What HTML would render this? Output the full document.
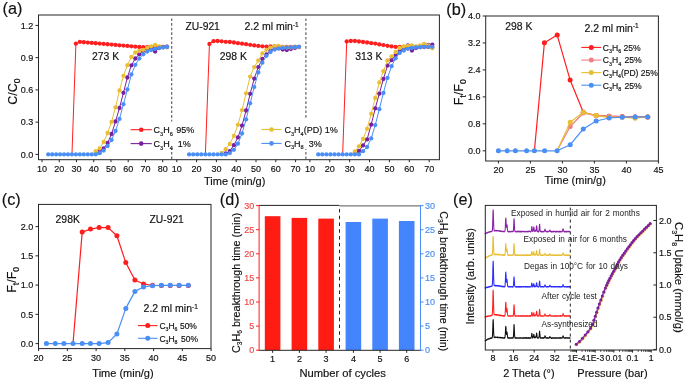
<!DOCTYPE html>
<html><head><meta charset="utf-8"><style>
html,body{margin:0;padding:0;background:#fff;}
svg{display:block;font-family:"Liberation Sans", sans-serif;will-change:transform;}
</style></head><body>
<svg width="685" height="383" viewBox="0 0 685 383">
<rect width="685" height="383" fill="#fff"/>
<line x1="171.7" y1="18.5" x2="171.7" y2="159.7" stroke="#555" stroke-width="1.1" stroke-dasharray="2.6,2" />
<line x1="305.9" y1="18.5" x2="305.9" y2="159.7" stroke="#555" stroke-width="1.1" stroke-dasharray="2.6,2" />
<polyline points="71.96,154.4 75.92,43.7 79.88,41.9 83.84,42.24 87.8,42.58 91.76,42.91 95.72,43.25 99.68,43.59 103.64,43.93 107.6,44.27 111.56,44.61 115.52,44.95 119.48,45.28 123.44,45.62 127.4,45.96 131.36,46.3 135.32,46.64 139.28,46.98 143.24,47.2 147.2,47.2 151.16,47.2 155.12,47.2 159.08,47.2 163.04,47 167,47" fill="none" stroke="#ff1e1e" stroke-width="1.0" stroke-linejoin="round" />
<circle cx="75.92" cy="43.7" r="2.15" fill="#ff1e1e"/>
<circle cx="79.88" cy="41.9" r="2.15" fill="#ff1e1e"/>
<circle cx="83.84" cy="42.24" r="2.15" fill="#ff1e1e"/>
<circle cx="87.8" cy="42.58" r="2.15" fill="#ff1e1e"/>
<circle cx="91.76" cy="42.91" r="2.15" fill="#ff1e1e"/>
<circle cx="95.72" cy="43.25" r="2.15" fill="#ff1e1e"/>
<circle cx="99.68" cy="43.59" r="2.15" fill="#ff1e1e"/>
<circle cx="103.64" cy="43.93" r="2.15" fill="#ff1e1e"/>
<circle cx="107.6" cy="44.27" r="2.15" fill="#ff1e1e"/>
<circle cx="111.56" cy="44.61" r="2.15" fill="#ff1e1e"/>
<circle cx="115.52" cy="44.95" r="2.15" fill="#ff1e1e"/>
<circle cx="119.48" cy="45.28" r="2.15" fill="#ff1e1e"/>
<circle cx="123.44" cy="45.62" r="2.15" fill="#ff1e1e"/>
<circle cx="127.4" cy="45.96" r="2.15" fill="#ff1e1e"/>
<circle cx="131.36" cy="46.3" r="2.15" fill="#ff1e1e"/>
<circle cx="135.32" cy="46.64" r="2.15" fill="#ff1e1e"/>
<circle cx="139.28" cy="46.98" r="2.15" fill="#ff1e1e"/>
<circle cx="143.24" cy="47.2" r="2.15" fill="#ff1e1e"/>
<circle cx="147.2" cy="47.2" r="2.15" fill="#ff1e1e"/>
<circle cx="151.16" cy="47.2" r="2.15" fill="#ff1e1e"/>
<circle cx="155.12" cy="47.2" r="2.15" fill="#ff1e1e"/>
<circle cx="159.08" cy="47.2" r="2.15" fill="#ff1e1e"/>
<circle cx="163.04" cy="47" r="2.15" fill="#ff1e1e"/>
<circle cx="167" cy="47" r="2.15" fill="#ff1e1e"/>
<polyline points="95.72,154.4 99.68,150.6 103.64,148.5 107.6,143 111.56,134 115.52,121.5 119.48,108 123.44,92.8 127.4,77.5 131.36,65.3 135.32,58.5 139.28,54.3 143.24,50.8 147.2,48.6 151.16,47.6 155.12,51.5 159.08,48 163.04,46.8 167,46.6" fill="none" stroke="#7a1fa0" stroke-width="1.0" stroke-linejoin="round" />
<circle cx="99.68" cy="150.6" r="2.15" fill="#7a1fa0"/>
<circle cx="103.64" cy="148.5" r="2.15" fill="#7a1fa0"/>
<circle cx="107.6" cy="143" r="2.15" fill="#7a1fa0"/>
<circle cx="111.56" cy="134" r="2.15" fill="#7a1fa0"/>
<circle cx="115.52" cy="121.5" r="2.15" fill="#7a1fa0"/>
<circle cx="119.48" cy="108" r="2.15" fill="#7a1fa0"/>
<circle cx="123.44" cy="92.8" r="2.15" fill="#7a1fa0"/>
<circle cx="127.4" cy="77.5" r="2.15" fill="#7a1fa0"/>
<circle cx="131.36" cy="65.3" r="2.15" fill="#7a1fa0"/>
<circle cx="135.32" cy="58.5" r="2.15" fill="#7a1fa0"/>
<circle cx="139.28" cy="54.3" r="2.15" fill="#7a1fa0"/>
<circle cx="143.24" cy="50.8" r="2.15" fill="#7a1fa0"/>
<circle cx="147.2" cy="48.6" r="2.15" fill="#7a1fa0"/>
<circle cx="151.16" cy="47.6" r="2.15" fill="#7a1fa0"/>
<circle cx="155.12" cy="51.5" r="2.15" fill="#7a1fa0"/>
<circle cx="159.08" cy="48" r="2.15" fill="#7a1fa0"/>
<circle cx="163.04" cy="46.8" r="2.15" fill="#7a1fa0"/>
<circle cx="167" cy="46.6" r="2.15" fill="#7a1fa0"/>
<polyline points="91.76,154.4 95.72,151.2 99.68,148.4 103.64,142 107.6,133 111.56,122 115.52,107.3 119.48,90.5 123.44,75.8 127.4,65.2 131.36,57 135.32,52.5 139.28,50.8 143.24,49.8 147.2,47.8 151.16,46.3 155.12,45 159.08,46.5 163.04,47.5 167,47.2" fill="none" stroke="#e8be35" stroke-width="1.0" stroke-linejoin="round" />
<circle cx="95.72" cy="151.2" r="2.15" fill="#e8be35"/>
<circle cx="99.68" cy="148.4" r="2.15" fill="#e8be35"/>
<circle cx="103.64" cy="142" r="2.15" fill="#e8be35"/>
<circle cx="107.6" cy="133" r="2.15" fill="#e8be35"/>
<circle cx="111.56" cy="122" r="2.15" fill="#e8be35"/>
<circle cx="115.52" cy="107.3" r="2.15" fill="#e8be35"/>
<circle cx="119.48" cy="90.5" r="2.15" fill="#e8be35"/>
<circle cx="123.44" cy="75.8" r="2.15" fill="#e8be35"/>
<circle cx="127.4" cy="65.2" r="2.15" fill="#e8be35"/>
<circle cx="131.36" cy="57" r="2.15" fill="#e8be35"/>
<circle cx="135.32" cy="52.5" r="2.15" fill="#e8be35"/>
<circle cx="139.28" cy="50.8" r="2.15" fill="#e8be35"/>
<circle cx="143.24" cy="49.8" r="2.15" fill="#e8be35"/>
<circle cx="147.2" cy="47.8" r="2.15" fill="#e8be35"/>
<circle cx="151.16" cy="46.3" r="2.15" fill="#e8be35"/>
<circle cx="155.12" cy="45" r="2.15" fill="#e8be35"/>
<circle cx="159.08" cy="46.5" r="2.15" fill="#e8be35"/>
<circle cx="163.04" cy="47.5" r="2.15" fill="#e8be35"/>
<circle cx="167" cy="47.2" r="2.15" fill="#e8be35"/>
<polyline points="48.2,154.4 52.16,154.4 56.12,154.4 60.08,154.4 64.04,154.4 68,154.4 71.96,154.4 75.92,154.4 79.88,154.4 83.84,154.4 87.8,154.4 91.76,154.4 95.72,154.4 99.68,153.2 103.64,150.6 107.6,146 111.56,140 115.52,131 119.48,118.9 123.44,104.2 127.4,89.5 131.36,74.5 135.32,64.8 139.28,58.6 143.24,54.3 147.2,51.6 151.16,50.1 155.12,48.8 159.08,48 163.04,47.4 167,47" fill="none" stroke="#4a8ff5" stroke-width="1.0" stroke-linejoin="round" />
<circle cx="48.2" cy="154.4" r="2.15" fill="#4a8ff5"/>
<circle cx="52.16" cy="154.4" r="2.15" fill="#4a8ff5"/>
<circle cx="56.12" cy="154.4" r="2.15" fill="#4a8ff5"/>
<circle cx="60.08" cy="154.4" r="2.15" fill="#4a8ff5"/>
<circle cx="64.04" cy="154.4" r="2.15" fill="#4a8ff5"/>
<circle cx="68" cy="154.4" r="2.15" fill="#4a8ff5"/>
<circle cx="71.96" cy="154.4" r="2.15" fill="#4a8ff5"/>
<circle cx="75.92" cy="154.4" r="2.15" fill="#4a8ff5"/>
<circle cx="79.88" cy="154.4" r="2.15" fill="#4a8ff5"/>
<circle cx="83.84" cy="154.4" r="2.15" fill="#4a8ff5"/>
<circle cx="87.8" cy="154.4" r="2.15" fill="#4a8ff5"/>
<circle cx="91.76" cy="154.4" r="2.15" fill="#4a8ff5"/>
<circle cx="95.72" cy="154.4" r="2.15" fill="#4a8ff5"/>
<circle cx="99.68" cy="153.2" r="2.15" fill="#4a8ff5"/>
<circle cx="103.64" cy="150.6" r="2.15" fill="#4a8ff5"/>
<circle cx="107.6" cy="146" r="2.15" fill="#4a8ff5"/>
<circle cx="111.56" cy="140" r="2.15" fill="#4a8ff5"/>
<circle cx="115.52" cy="131" r="2.15" fill="#4a8ff5"/>
<circle cx="119.48" cy="118.9" r="2.15" fill="#4a8ff5"/>
<circle cx="123.44" cy="104.2" r="2.15" fill="#4a8ff5"/>
<circle cx="127.4" cy="89.5" r="2.15" fill="#4a8ff5"/>
<circle cx="131.36" cy="74.5" r="2.15" fill="#4a8ff5"/>
<circle cx="135.32" cy="64.8" r="2.15" fill="#4a8ff5"/>
<circle cx="139.28" cy="58.6" r="2.15" fill="#4a8ff5"/>
<circle cx="143.24" cy="54.3" r="2.15" fill="#4a8ff5"/>
<circle cx="147.2" cy="51.6" r="2.15" fill="#4a8ff5"/>
<circle cx="151.16" cy="50.1" r="2.15" fill="#4a8ff5"/>
<circle cx="155.12" cy="48.8" r="2.15" fill="#4a8ff5"/>
<circle cx="159.08" cy="48" r="2.15" fill="#4a8ff5"/>
<circle cx="163.04" cy="47.4" r="2.15" fill="#4a8ff5"/>
<circle cx="167" cy="47" r="2.15" fill="#4a8ff5"/>
<polyline points="205.38,154.4 209.45,44 213.52,41.2 217.59,41 221.66,41.3 225.73,41.8 229.8,42 233.87,42.5 237.94,43.2 242.01,43.7 246.08,44.2 250.15,44.8 254.22,45.4 258.29,45.9 262.36,46.3 266.43,46.6 270.5,46.5 274.57,46.4 278.64,46.6 282.71,46.8 286.78,47 290.85,47 294.92,47 298.99,47" fill="none" stroke="#ff1e1e" stroke-width="1.0" stroke-linejoin="round" />
<circle cx="209.45" cy="44" r="2.15" fill="#ff1e1e"/>
<circle cx="213.52" cy="41.2" r="2.15" fill="#ff1e1e"/>
<circle cx="217.59" cy="41" r="2.15" fill="#ff1e1e"/>
<circle cx="221.66" cy="41.3" r="2.15" fill="#ff1e1e"/>
<circle cx="225.73" cy="41.8" r="2.15" fill="#ff1e1e"/>
<circle cx="229.8" cy="42" r="2.15" fill="#ff1e1e"/>
<circle cx="233.87" cy="42.5" r="2.15" fill="#ff1e1e"/>
<circle cx="237.94" cy="43.2" r="2.15" fill="#ff1e1e"/>
<circle cx="242.01" cy="43.7" r="2.15" fill="#ff1e1e"/>
<circle cx="246.08" cy="44.2" r="2.15" fill="#ff1e1e"/>
<circle cx="250.15" cy="44.8" r="2.15" fill="#ff1e1e"/>
<circle cx="254.22" cy="45.4" r="2.15" fill="#ff1e1e"/>
<circle cx="258.29" cy="45.9" r="2.15" fill="#ff1e1e"/>
<circle cx="262.36" cy="46.3" r="2.15" fill="#ff1e1e"/>
<circle cx="266.43" cy="46.6" r="2.15" fill="#ff1e1e"/>
<circle cx="270.5" cy="46.5" r="2.15" fill="#ff1e1e"/>
<circle cx="274.57" cy="46.4" r="2.15" fill="#ff1e1e"/>
<circle cx="278.64" cy="46.6" r="2.15" fill="#ff1e1e"/>
<circle cx="282.71" cy="46.8" r="2.15" fill="#ff1e1e"/>
<circle cx="286.78" cy="47" r="2.15" fill="#ff1e1e"/>
<circle cx="290.85" cy="47" r="2.15" fill="#ff1e1e"/>
<circle cx="294.92" cy="47" r="2.15" fill="#ff1e1e"/>
<circle cx="298.99" cy="47" r="2.15" fill="#ff1e1e"/>
<polyline points="221.66,154.4 225.73,153.5 229.8,151.1 233.87,145.2 237.94,137.4 242.01,125.6 246.08,110.5 250.15,93.8 254.22,78.6 258.29,67.1 262.36,58.8 266.43,54.4 270.5,50.6 274.57,49 278.64,48.4 282.71,49.5 286.78,50.1 290.85,49 294.92,47.9 298.99,46.8" fill="none" stroke="#7a1fa0" stroke-width="1.0" stroke-linejoin="round" />
<circle cx="225.73" cy="153.5" r="2.15" fill="#7a1fa0"/>
<circle cx="229.8" cy="151.1" r="2.15" fill="#7a1fa0"/>
<circle cx="233.87" cy="145.2" r="2.15" fill="#7a1fa0"/>
<circle cx="237.94" cy="137.4" r="2.15" fill="#7a1fa0"/>
<circle cx="242.01" cy="125.6" r="2.15" fill="#7a1fa0"/>
<circle cx="246.08" cy="110.5" r="2.15" fill="#7a1fa0"/>
<circle cx="250.15" cy="93.8" r="2.15" fill="#7a1fa0"/>
<circle cx="254.22" cy="78.6" r="2.15" fill="#7a1fa0"/>
<circle cx="258.29" cy="67.1" r="2.15" fill="#7a1fa0"/>
<circle cx="262.36" cy="58.8" r="2.15" fill="#7a1fa0"/>
<circle cx="266.43" cy="54.4" r="2.15" fill="#7a1fa0"/>
<circle cx="270.5" cy="50.6" r="2.15" fill="#7a1fa0"/>
<circle cx="274.57" cy="49" r="2.15" fill="#7a1fa0"/>
<circle cx="278.64" cy="48.4" r="2.15" fill="#7a1fa0"/>
<circle cx="282.71" cy="49.5" r="2.15" fill="#7a1fa0"/>
<circle cx="286.78" cy="50.1" r="2.15" fill="#7a1fa0"/>
<circle cx="290.85" cy="49" r="2.15" fill="#7a1fa0"/>
<circle cx="294.92" cy="47.9" r="2.15" fill="#7a1fa0"/>
<circle cx="298.99" cy="46.8" r="2.15" fill="#7a1fa0"/>
<polyline points="217.59,154.4 221.66,153 225.73,149.2 229.8,143.9 233.87,135.8 237.94,124.8 242.01,110.2 246.08,93.3 250.15,76.6 254.22,67.1 258.29,60.5 262.36,53.4 266.43,49.8 270.5,47.6 274.57,46.2 278.64,45.9 282.71,46.8 286.78,47.5 290.85,47.5 294.92,47 298.99,47" fill="none" stroke="#e8be35" stroke-width="1.0" stroke-linejoin="round" />
<circle cx="221.66" cy="153" r="2.15" fill="#e8be35"/>
<circle cx="225.73" cy="149.2" r="2.15" fill="#e8be35"/>
<circle cx="229.8" cy="143.9" r="2.15" fill="#e8be35"/>
<circle cx="233.87" cy="135.8" r="2.15" fill="#e8be35"/>
<circle cx="237.94" cy="124.8" r="2.15" fill="#e8be35"/>
<circle cx="242.01" cy="110.2" r="2.15" fill="#e8be35"/>
<circle cx="246.08" cy="93.3" r="2.15" fill="#e8be35"/>
<circle cx="250.15" cy="76.6" r="2.15" fill="#e8be35"/>
<circle cx="254.22" cy="67.1" r="2.15" fill="#e8be35"/>
<circle cx="258.29" cy="60.5" r="2.15" fill="#e8be35"/>
<circle cx="262.36" cy="53.4" r="2.15" fill="#e8be35"/>
<circle cx="266.43" cy="49.8" r="2.15" fill="#e8be35"/>
<circle cx="270.5" cy="47.6" r="2.15" fill="#e8be35"/>
<circle cx="274.57" cy="46.2" r="2.15" fill="#e8be35"/>
<circle cx="278.64" cy="45.9" r="2.15" fill="#e8be35"/>
<circle cx="282.71" cy="46.8" r="2.15" fill="#e8be35"/>
<circle cx="286.78" cy="47.5" r="2.15" fill="#e8be35"/>
<circle cx="290.85" cy="47.5" r="2.15" fill="#e8be35"/>
<circle cx="294.92" cy="47" r="2.15" fill="#e8be35"/>
<circle cx="298.99" cy="47" r="2.15" fill="#e8be35"/>
<polyline points="189.1,154.4 193.17,154.4 197.24,154.4 201.31,154.4 205.38,154.4 209.45,154.4 213.52,154.4 217.59,154.4 221.66,154.4 225.73,154.4 229.8,153.1 233.87,149.8 237.94,143.7 242.01,133.5 246.08,119.4 250.15,103.3 254.22,87.1 258.29,72.5 262.36,62.7 266.43,55.8 270.5,52 274.57,49.5 278.64,48.4 282.71,47.9 286.78,47.6 290.85,47.3 294.92,47 298.99,46.8" fill="none" stroke="#4a8ff5" stroke-width="1.0" stroke-linejoin="round" />
<circle cx="189.1" cy="154.4" r="2.15" fill="#4a8ff5"/>
<circle cx="193.17" cy="154.4" r="2.15" fill="#4a8ff5"/>
<circle cx="197.24" cy="154.4" r="2.15" fill="#4a8ff5"/>
<circle cx="201.31" cy="154.4" r="2.15" fill="#4a8ff5"/>
<circle cx="205.38" cy="154.4" r="2.15" fill="#4a8ff5"/>
<circle cx="209.45" cy="154.4" r="2.15" fill="#4a8ff5"/>
<circle cx="213.52" cy="154.4" r="2.15" fill="#4a8ff5"/>
<circle cx="217.59" cy="154.4" r="2.15" fill="#4a8ff5"/>
<circle cx="221.66" cy="154.4" r="2.15" fill="#4a8ff5"/>
<circle cx="225.73" cy="154.4" r="2.15" fill="#4a8ff5"/>
<circle cx="229.8" cy="153.1" r="2.15" fill="#4a8ff5"/>
<circle cx="233.87" cy="149.8" r="2.15" fill="#4a8ff5"/>
<circle cx="237.94" cy="143.7" r="2.15" fill="#4a8ff5"/>
<circle cx="242.01" cy="133.5" r="2.15" fill="#4a8ff5"/>
<circle cx="246.08" cy="119.4" r="2.15" fill="#4a8ff5"/>
<circle cx="250.15" cy="103.3" r="2.15" fill="#4a8ff5"/>
<circle cx="254.22" cy="87.1" r="2.15" fill="#4a8ff5"/>
<circle cx="258.29" cy="72.5" r="2.15" fill="#4a8ff5"/>
<circle cx="262.36" cy="62.7" r="2.15" fill="#4a8ff5"/>
<circle cx="266.43" cy="55.8" r="2.15" fill="#4a8ff5"/>
<circle cx="270.5" cy="52" r="2.15" fill="#4a8ff5"/>
<circle cx="274.57" cy="49.5" r="2.15" fill="#4a8ff5"/>
<circle cx="278.64" cy="48.4" r="2.15" fill="#4a8ff5"/>
<circle cx="282.71" cy="47.9" r="2.15" fill="#4a8ff5"/>
<circle cx="286.78" cy="47.6" r="2.15" fill="#4a8ff5"/>
<circle cx="290.85" cy="47.3" r="2.15" fill="#4a8ff5"/>
<circle cx="294.92" cy="47" r="2.15" fill="#4a8ff5"/>
<circle cx="298.99" cy="46.8" r="2.15" fill="#4a8ff5"/>
<polyline points="342.65,154.4 346.72,41.5 350.8,41 354.88,41 358.95,41.5 363.02,42 367.1,42.5 371.18,43.2 375.25,43.6 379.32,44.4 383.4,45.1 387.48,45.8 391.55,46.4 395.62,46.9 399.7,46.8 403.77,46.8 407.85,46.9 411.93,47 416,47 420.07,47 424.15,47 428.23,47 432.3,47" fill="none" stroke="#ff1e1e" stroke-width="1.0" stroke-linejoin="round" />
<circle cx="346.72" cy="41.5" r="2.15" fill="#ff1e1e"/>
<circle cx="350.8" cy="41" r="2.15" fill="#ff1e1e"/>
<circle cx="354.88" cy="41" r="2.15" fill="#ff1e1e"/>
<circle cx="358.95" cy="41.5" r="2.15" fill="#ff1e1e"/>
<circle cx="363.02" cy="42" r="2.15" fill="#ff1e1e"/>
<circle cx="367.1" cy="42.5" r="2.15" fill="#ff1e1e"/>
<circle cx="371.18" cy="43.2" r="2.15" fill="#ff1e1e"/>
<circle cx="375.25" cy="43.6" r="2.15" fill="#ff1e1e"/>
<circle cx="379.32" cy="44.4" r="2.15" fill="#ff1e1e"/>
<circle cx="383.4" cy="45.1" r="2.15" fill="#ff1e1e"/>
<circle cx="387.48" cy="45.8" r="2.15" fill="#ff1e1e"/>
<circle cx="391.55" cy="46.4" r="2.15" fill="#ff1e1e"/>
<circle cx="395.62" cy="46.9" r="2.15" fill="#ff1e1e"/>
<circle cx="399.7" cy="46.8" r="2.15" fill="#ff1e1e"/>
<circle cx="403.77" cy="46.8" r="2.15" fill="#ff1e1e"/>
<circle cx="407.85" cy="46.9" r="2.15" fill="#ff1e1e"/>
<circle cx="411.93" cy="47" r="2.15" fill="#ff1e1e"/>
<circle cx="416" cy="47" r="2.15" fill="#ff1e1e"/>
<circle cx="420.07" cy="47" r="2.15" fill="#ff1e1e"/>
<circle cx="424.15" cy="47" r="2.15" fill="#ff1e1e"/>
<circle cx="428.23" cy="47" r="2.15" fill="#ff1e1e"/>
<circle cx="432.3" cy="47" r="2.15" fill="#ff1e1e"/>
<polyline points="354.88,154.4 358.95,151 363.02,145.4 367.1,139.4 371.18,124.7 375.25,108.3 379.32,93.7 383.4,79 387.48,65.6 391.55,60.2 395.62,55 399.7,51 403.77,48 407.85,45.5 411.93,50.5 416,48 420.07,47 424.15,45.5 428.23,45 432.3,44.6" fill="none" stroke="#7a1fa0" stroke-width="1.0" stroke-linejoin="round" />
<circle cx="358.95" cy="151" r="2.15" fill="#7a1fa0"/>
<circle cx="363.02" cy="145.4" r="2.15" fill="#7a1fa0"/>
<circle cx="367.1" cy="139.4" r="2.15" fill="#7a1fa0"/>
<circle cx="371.18" cy="124.7" r="2.15" fill="#7a1fa0"/>
<circle cx="375.25" cy="108.3" r="2.15" fill="#7a1fa0"/>
<circle cx="379.32" cy="93.7" r="2.15" fill="#7a1fa0"/>
<circle cx="383.4" cy="79" r="2.15" fill="#7a1fa0"/>
<circle cx="387.48" cy="65.6" r="2.15" fill="#7a1fa0"/>
<circle cx="391.55" cy="60.2" r="2.15" fill="#7a1fa0"/>
<circle cx="395.62" cy="55" r="2.15" fill="#7a1fa0"/>
<circle cx="399.7" cy="51" r="2.15" fill="#7a1fa0"/>
<circle cx="403.77" cy="48" r="2.15" fill="#7a1fa0"/>
<circle cx="407.85" cy="45.5" r="2.15" fill="#7a1fa0"/>
<circle cx="411.93" cy="50.5" r="2.15" fill="#7a1fa0"/>
<circle cx="416" cy="48" r="2.15" fill="#7a1fa0"/>
<circle cx="420.07" cy="47" r="2.15" fill="#7a1fa0"/>
<circle cx="424.15" cy="45.5" r="2.15" fill="#7a1fa0"/>
<circle cx="428.23" cy="45" r="2.15" fill="#7a1fa0"/>
<circle cx="432.3" cy="44.6" r="2.15" fill="#7a1fa0"/>
<polyline points="346.72,154.4 350.8,154 354.88,151.5 358.95,146.3 363.02,139 367.1,128.8 371.18,113.8 375.25,98 379.32,82.5 383.4,71.2 387.48,60.5 391.55,56.3 395.62,52 399.7,48 403.77,46.5 407.85,46 411.93,45.5 416,46.5 420.07,45.5 424.15,43.8 428.23,45.5 432.3,48.3" fill="none" stroke="#e8be35" stroke-width="1.0" stroke-linejoin="round" />
<circle cx="354.88" cy="151.5" r="2.15" fill="#e8be35"/>
<circle cx="358.95" cy="146.3" r="2.15" fill="#e8be35"/>
<circle cx="363.02" cy="139" r="2.15" fill="#e8be35"/>
<circle cx="367.1" cy="128.8" r="2.15" fill="#e8be35"/>
<circle cx="371.18" cy="113.8" r="2.15" fill="#e8be35"/>
<circle cx="375.25" cy="98" r="2.15" fill="#e8be35"/>
<circle cx="379.32" cy="82.5" r="2.15" fill="#e8be35"/>
<circle cx="383.4" cy="71.2" r="2.15" fill="#e8be35"/>
<circle cx="387.48" cy="60.5" r="2.15" fill="#e8be35"/>
<circle cx="391.55" cy="56.3" r="2.15" fill="#e8be35"/>
<circle cx="395.62" cy="52" r="2.15" fill="#e8be35"/>
<circle cx="399.7" cy="48" r="2.15" fill="#e8be35"/>
<circle cx="403.77" cy="46.5" r="2.15" fill="#e8be35"/>
<circle cx="407.85" cy="46" r="2.15" fill="#e8be35"/>
<circle cx="411.93" cy="45.5" r="2.15" fill="#e8be35"/>
<circle cx="416" cy="46.5" r="2.15" fill="#e8be35"/>
<circle cx="420.07" cy="45.5" r="2.15" fill="#e8be35"/>
<circle cx="424.15" cy="43.8" r="2.15" fill="#e8be35"/>
<circle cx="428.23" cy="45.5" r="2.15" fill="#e8be35"/>
<circle cx="432.3" cy="48.3" r="2.15" fill="#e8be35"/>
<polyline points="318.2,154.4 322.27,154.4 326.35,154.4 330.43,154.4 334.5,154.4 338.57,154.4 342.65,154.4 346.72,154.4 350.8,154.4 354.88,154.4 358.95,154.4 363.02,151.2 367.1,147 371.18,138.4 375.25,125.1 379.32,109.2 383.4,93 387.48,77.9 391.55,66.2 395.62,58.3 399.7,52.9 403.77,50.5 407.85,48.8 411.93,48 416,47.5 420.07,47.2 424.15,47 428.23,46.9 432.3,46.8" fill="none" stroke="#4a8ff5" stroke-width="1.0" stroke-linejoin="round" />
<circle cx="318.2" cy="154.4" r="2.15" fill="#4a8ff5"/>
<circle cx="322.27" cy="154.4" r="2.15" fill="#4a8ff5"/>
<circle cx="326.35" cy="154.4" r="2.15" fill="#4a8ff5"/>
<circle cx="330.43" cy="154.4" r="2.15" fill="#4a8ff5"/>
<circle cx="334.5" cy="154.4" r="2.15" fill="#4a8ff5"/>
<circle cx="338.57" cy="154.4" r="2.15" fill="#4a8ff5"/>
<circle cx="342.65" cy="154.4" r="2.15" fill="#4a8ff5"/>
<circle cx="346.72" cy="154.4" r="2.15" fill="#4a8ff5"/>
<circle cx="350.8" cy="154.4" r="2.15" fill="#4a8ff5"/>
<circle cx="354.88" cy="154.4" r="2.15" fill="#4a8ff5"/>
<circle cx="358.95" cy="154.4" r="2.15" fill="#4a8ff5"/>
<circle cx="363.02" cy="151.2" r="2.15" fill="#4a8ff5"/>
<circle cx="367.1" cy="147" r="2.15" fill="#4a8ff5"/>
<circle cx="371.18" cy="138.4" r="2.15" fill="#4a8ff5"/>
<circle cx="375.25" cy="125.1" r="2.15" fill="#4a8ff5"/>
<circle cx="379.32" cy="109.2" r="2.15" fill="#4a8ff5"/>
<circle cx="383.4" cy="93" r="2.15" fill="#4a8ff5"/>
<circle cx="387.48" cy="77.9" r="2.15" fill="#4a8ff5"/>
<circle cx="391.55" cy="66.2" r="2.15" fill="#4a8ff5"/>
<circle cx="395.62" cy="58.3" r="2.15" fill="#4a8ff5"/>
<circle cx="399.7" cy="52.9" r="2.15" fill="#4a8ff5"/>
<circle cx="403.77" cy="50.5" r="2.15" fill="#4a8ff5"/>
<circle cx="407.85" cy="48.8" r="2.15" fill="#4a8ff5"/>
<circle cx="411.93" cy="48" r="2.15" fill="#4a8ff5"/>
<circle cx="416" cy="47.5" r="2.15" fill="#4a8ff5"/>
<circle cx="420.07" cy="47.2" r="2.15" fill="#4a8ff5"/>
<circle cx="424.15" cy="47" r="2.15" fill="#4a8ff5"/>
<circle cx="428.23" cy="46.9" r="2.15" fill="#4a8ff5"/>
<circle cx="432.3" cy="46.8" r="2.15" fill="#4a8ff5"/>
<rect x="38.5" y="15" width="400.9" height="144.7" fill="none" stroke="#262626" stroke-width="1"/>
<line x1="35.5" y1="154.4" x2="38.5" y2="154.4" stroke="#262626" stroke-width="1" />
<text x="33.2" y="157.6" font-size="9.0" text-anchor="end" fill="#111" stroke="#111" stroke-width="0.16" >0.0</text>
<line x1="35.5" y1="122.15" x2="38.5" y2="122.15" stroke="#262626" stroke-width="1" />
<text x="33.2" y="125.35" font-size="9.0" text-anchor="end" fill="#111" stroke="#111" stroke-width="0.16" >0.3</text>
<line x1="35.5" y1="89.9" x2="38.5" y2="89.9" stroke="#262626" stroke-width="1" />
<text x="33.2" y="93.1" font-size="9.0" text-anchor="end" fill="#111" stroke="#111" stroke-width="0.16" >0.6</text>
<line x1="35.5" y1="57.65" x2="38.5" y2="57.65" stroke="#262626" stroke-width="1" />
<text x="33.2" y="60.85" font-size="9.0" text-anchor="end" fill="#111" stroke="#111" stroke-width="0.16" >0.9</text>
<line x1="35.5" y1="25.4" x2="38.5" y2="25.4" stroke="#262626" stroke-width="1" />
<text x="33.2" y="28.6" font-size="9.0" text-anchor="end" fill="#111" stroke="#111" stroke-width="0.16" >1.2</text>
<line x1="42" y1="159.7" x2="42" y2="162.2" stroke="#262626" stroke-width="1" />
<text x="42" y="171.6" font-size="9.0" text-anchor="middle" fill="#111" stroke="#111" stroke-width="0.16" >10</text>
<line x1="59.24" y1="159.7" x2="59.24" y2="162.2" stroke="#262626" stroke-width="1" />
<text x="59.24" y="171.6" font-size="9.0" text-anchor="middle" fill="#111" stroke="#111" stroke-width="0.16" >20</text>
<line x1="76.48" y1="159.7" x2="76.48" y2="162.2" stroke="#262626" stroke-width="1" />
<text x="76.48" y="171.6" font-size="9.0" text-anchor="middle" fill="#111" stroke="#111" stroke-width="0.16" >30</text>
<line x1="93.72" y1="159.7" x2="93.72" y2="162.2" stroke="#262626" stroke-width="1" />
<text x="93.72" y="171.6" font-size="9.0" text-anchor="middle" fill="#111" stroke="#111" stroke-width="0.16" >40</text>
<line x1="110.96" y1="159.7" x2="110.96" y2="162.2" stroke="#262626" stroke-width="1" />
<text x="110.96" y="171.6" font-size="9.0" text-anchor="middle" fill="#111" stroke="#111" stroke-width="0.16" >50</text>
<line x1="128.2" y1="159.7" x2="128.2" y2="162.2" stroke="#262626" stroke-width="1" />
<text x="128.2" y="171.6" font-size="9.0" text-anchor="middle" fill="#111" stroke="#111" stroke-width="0.16" >60</text>
<line x1="145.44" y1="159.7" x2="145.44" y2="162.2" stroke="#262626" stroke-width="1" />
<text x="145.44" y="171.6" font-size="9.0" text-anchor="middle" fill="#111" stroke="#111" stroke-width="0.16" >70</text>
<line x1="162.68" y1="159.7" x2="162.68" y2="162.2" stroke="#262626" stroke-width="1" />
<text x="162.68" y="171.6" font-size="9.0" text-anchor="middle" fill="#111" stroke="#111" stroke-width="0.16" >80</text>
<line x1="176.8" y1="159.7" x2="176.8" y2="162.2" stroke="#262626" stroke-width="1" />
<text x="176.8" y="171.6" font-size="9.0" text-anchor="middle" fill="#111" stroke="#111" stroke-width="0.16" >10</text>
<line x1="196.6" y1="159.7" x2="196.6" y2="162.2" stroke="#262626" stroke-width="1" />
<text x="196.6" y="171.6" font-size="9.0" text-anchor="middle" fill="#111" stroke="#111" stroke-width="0.16" >20</text>
<line x1="216.4" y1="159.7" x2="216.4" y2="162.2" stroke="#262626" stroke-width="1" />
<text x="216.4" y="171.6" font-size="9.0" text-anchor="middle" fill="#111" stroke="#111" stroke-width="0.16" >30</text>
<line x1="236.2" y1="159.7" x2="236.2" y2="162.2" stroke="#262626" stroke-width="1" />
<text x="236.2" y="171.6" font-size="9.0" text-anchor="middle" fill="#111" stroke="#111" stroke-width="0.16" >40</text>
<line x1="256" y1="159.7" x2="256" y2="162.2" stroke="#262626" stroke-width="1" />
<text x="256" y="171.6" font-size="9.0" text-anchor="middle" fill="#111" stroke="#111" stroke-width="0.16" >50</text>
<line x1="275.8" y1="159.7" x2="275.8" y2="162.2" stroke="#262626" stroke-width="1" />
<text x="275.8" y="171.6" font-size="9.0" text-anchor="middle" fill="#111" stroke="#111" stroke-width="0.16" >60</text>
<line x1="295.6" y1="159.7" x2="295.6" y2="162.2" stroke="#262626" stroke-width="1" />
<text x="295.6" y="171.6" font-size="9.0" text-anchor="middle" fill="#111" stroke="#111" stroke-width="0.16" >70</text>
<line x1="309.9" y1="159.7" x2="309.9" y2="162.2" stroke="#262626" stroke-width="1" />
<text x="309.9" y="171.6" font-size="9.0" text-anchor="middle" fill="#111" stroke="#111" stroke-width="0.16" >10</text>
<line x1="329.78" y1="159.7" x2="329.78" y2="162.2" stroke="#262626" stroke-width="1" />
<text x="329.78" y="171.6" font-size="9.0" text-anchor="middle" fill="#111" stroke="#111" stroke-width="0.16" >20</text>
<line x1="349.66" y1="159.7" x2="349.66" y2="162.2" stroke="#262626" stroke-width="1" />
<text x="349.66" y="171.6" font-size="9.0" text-anchor="middle" fill="#111" stroke="#111" stroke-width="0.16" >30</text>
<line x1="369.54" y1="159.7" x2="369.54" y2="162.2" stroke="#262626" stroke-width="1" />
<text x="369.54" y="171.6" font-size="9.0" text-anchor="middle" fill="#111" stroke="#111" stroke-width="0.16" >40</text>
<line x1="389.42" y1="159.7" x2="389.42" y2="162.2" stroke="#262626" stroke-width="1" />
<text x="389.42" y="171.6" font-size="9.0" text-anchor="middle" fill="#111" stroke="#111" stroke-width="0.16" >50</text>
<line x1="409.3" y1="159.7" x2="409.3" y2="162.2" stroke="#262626" stroke-width="1" />
<text x="409.3" y="171.6" font-size="9.0" text-anchor="middle" fill="#111" stroke="#111" stroke-width="0.16" >60</text>
<line x1="429.18" y1="159.7" x2="429.18" y2="162.2" stroke="#262626" stroke-width="1" />
<text x="429.18" y="171.6" font-size="9.0" text-anchor="middle" fill="#111" stroke="#111" stroke-width="0.16" >70</text>
<text x="17" y="91.6" font-size="12.5" text-anchor="middle" fill="#111" stroke="#111" stroke-width="0.16" transform="rotate(-90 17 91.6)" >C/C<tspan font-size="8.6" dy="3.0">0</tspan></text>
<text x="234.7" y="184.5" font-size="11.0" text-anchor="middle" fill="#111" stroke="#111" stroke-width="0.16" >Time (min/g)</text>
<text x="2.6" y="14.3" font-size="16.2" text-anchor="start" fill="#111" stroke="#111" stroke-width="0.16" >(a)</text>
<text x="185.5" y="30" font-size="10.3" text-anchor="start" fill="#111" stroke="#111" stroke-width="0.16" >ZU-921</text>
<text x="244.5" y="30" font-size="10.5" text-anchor="start" fill="#111" stroke="#111" stroke-width="0.16" >2.2 ml min<tspan font-size="6.5" dy="-3.5">-1</tspan></text>
<text x="92" y="60" font-size="10.4" text-anchor="start" fill="#111" stroke="#111" stroke-width="0.16" >273 K</text>
<text x="219.8" y="60" font-size="10.4" text-anchor="start" fill="#111" stroke="#111" stroke-width="0.16" >298 K</text>
<text x="355.3" y="60" font-size="10.4" text-anchor="start" fill="#111" stroke="#111" stroke-width="0.16" >313 K</text>
<rect x="128" y="121.5" width="68" height="27.5" fill="#fff"/>
<rect x="258" y="118" width="82" height="31" fill="#fff"/>
<line x1="130.6" y1="129.7" x2="151.8" y2="129.7" stroke="#ff1e1e" stroke-width="1.1" />
<circle cx="141.2" cy="129.7" r="2.3" fill="#ff1e1e"/>
<text x="153.6" y="133" font-size="9.0" text-anchor="start" fill="#111" stroke="#111" stroke-width="0.16" ><tspan>C</tspan><tspan font-size="5.58" dy="2.7">3</tspan><tspan dy="-2.7">H</tspan><tspan font-size="5.58" dy="2.7">6</tspan><tspan dy="-2.7" dx="1.0"> 95%</tspan></text>
<line x1="130.6" y1="143.6" x2="151.8" y2="143.6" stroke="#7a1fa0" stroke-width="1.1" />
<circle cx="141.2" cy="143.6" r="2.3" fill="#7a1fa0"/>
<text x="153.6" y="146.9" font-size="9.0" text-anchor="start" fill="#111" stroke="#111" stroke-width="0.16" ><tspan>C</tspan><tspan font-size="5.58" dy="2.7">3</tspan><tspan dy="-2.7">H</tspan><tspan font-size="5.58" dy="2.7">4</tspan><tspan dy="-2.7">&#160; 1%</tspan></text>
<line x1="261.4" y1="129.5" x2="281.6" y2="129.5" stroke="#e8be35" stroke-width="1.1" />
<circle cx="271.5" cy="129.5" r="2.3" fill="#e8be35"/>
<text x="284.5" y="132.8" font-size="9.0" text-anchor="start" fill="#111" stroke="#111" stroke-width="0.16" ><tspan>C</tspan><tspan font-size="5.58" dy="2.7">3</tspan><tspan dy="-2.7">H</tspan><tspan font-size="5.58" dy="2.7">4</tspan><tspan dy="-2.7">(PD) 1%</tspan></text>
<line x1="261.4" y1="143.4" x2="281.6" y2="143.4" stroke="#4a8ff5" stroke-width="1.1" />
<circle cx="271.5" cy="143.4" r="2.3" fill="#4a8ff5"/>
<text x="284.5" y="146.7" font-size="9.0" text-anchor="start" fill="#111" stroke="#111" stroke-width="0.16" ><tspan>C</tspan><tspan font-size="5.58" dy="2.7">3</tspan><tspan dy="-2.7">H</tspan><tspan font-size="5.58" dy="2.7">8</tspan><tspan dy="-2.7">&#160; 3%</tspan></text>
<polyline points="534.4,150.8 544.4,42.7 557.2,35.1 570.1,79.9 583.3,112.3 596.2,115.5 609.1,116.2 622.2,116.6 635.1,116.9 647.7,116.9" fill="none" stroke="#ff1e1e" stroke-width="1.2" stroke-linejoin="round" />
<circle cx="544.4" cy="42.7" r="2.5" fill="#ff1e1e"/>
<circle cx="557.2" cy="35.1" r="2.5" fill="#ff1e1e"/>
<circle cx="570.1" cy="79.9" r="2.5" fill="#ff1e1e"/>
<circle cx="583.3" cy="112.3" r="2.5" fill="#ff1e1e"/>
<circle cx="596.2" cy="115.5" r="2.5" fill="#ff1e1e"/>
<circle cx="609.1" cy="116.2" r="2.5" fill="#ff1e1e"/>
<circle cx="622.2" cy="116.6" r="2.5" fill="#ff1e1e"/>
<circle cx="635.1" cy="116.9" r="2.5" fill="#ff1e1e"/>
<circle cx="647.7" cy="116.9" r="2.5" fill="#ff1e1e"/>
<polyline points="557.1,150.8 570.2,126.5 583.3,113 596.2,115.8 609.1,116.3 622.2,116.7 635.1,117 647.7,117" fill="none" stroke="#f07f86" stroke-width="1.2" stroke-linejoin="round" />
<circle cx="570.2" cy="126.5" r="2.5" fill="#f07f86"/>
<circle cx="583.3" cy="113" r="2.5" fill="#f07f86"/>
<circle cx="596.2" cy="115.8" r="2.5" fill="#f07f86"/>
<circle cx="609.1" cy="116.3" r="2.5" fill="#f07f86"/>
<circle cx="622.2" cy="116.7" r="2.5" fill="#f07f86"/>
<circle cx="635.1" cy="117" r="2.5" fill="#f07f86"/>
<circle cx="647.7" cy="117" r="2.5" fill="#f07f86"/>
<polyline points="557.1,150.8 570.2,122.3 583.3,112.3 596.2,115.6 609.1,117.3 622.2,117.2 635.1,118.2 647.7,117" fill="none" stroke="#e8be35" stroke-width="1.2" stroke-linejoin="round" />
<circle cx="570.2" cy="122.3" r="2.5" fill="#e8be35"/>
<circle cx="583.3" cy="112.3" r="2.5" fill="#e8be35"/>
<circle cx="596.2" cy="115.6" r="2.5" fill="#e8be35"/>
<circle cx="609.1" cy="117.3" r="2.5" fill="#e8be35"/>
<circle cx="622.2" cy="117.2" r="2.5" fill="#e8be35"/>
<circle cx="635.1" cy="118.2" r="2.5" fill="#e8be35"/>
<circle cx="647.7" cy="117" r="2.5" fill="#e8be35"/>
<polyline points="498.4,150.8 507.2,150.8 515.4,150.8 526.6,150.8 534.4,150.8 544.6,150.8 557.1,150.8 570.2,144.7 583.3,129 596.2,121 609.1,118 622.2,117.2 635.1,117 647.7,116.9" fill="none" stroke="#4a8ff5" stroke-width="1.2" stroke-linejoin="round" />
<circle cx="498.4" cy="150.8" r="2.5" fill="#4a8ff5"/>
<circle cx="507.2" cy="150.8" r="2.5" fill="#4a8ff5"/>
<circle cx="515.4" cy="150.8" r="2.5" fill="#4a8ff5"/>
<circle cx="526.6" cy="150.8" r="2.5" fill="#4a8ff5"/>
<circle cx="534.4" cy="150.8" r="2.5" fill="#4a8ff5"/>
<circle cx="544.6" cy="150.8" r="2.5" fill="#4a8ff5"/>
<circle cx="557.1" cy="150.8" r="2.5" fill="#4a8ff5"/>
<circle cx="570.2" cy="144.7" r="2.5" fill="#4a8ff5"/>
<circle cx="583.3" cy="129" r="2.5" fill="#4a8ff5"/>
<circle cx="596.2" cy="121" r="2.5" fill="#4a8ff5"/>
<circle cx="609.1" cy="118" r="2.5" fill="#4a8ff5"/>
<circle cx="622.2" cy="117.2" r="2.5" fill="#4a8ff5"/>
<circle cx="635.1" cy="117" r="2.5" fill="#4a8ff5"/>
<circle cx="647.7" cy="116.9" r="2.5" fill="#4a8ff5"/>
<rect x="485.7" y="16" width="172.7" height="145" fill="none" stroke="#262626" stroke-width="1"/>
<line x1="482.7" y1="150.8" x2="485.7" y2="150.8" stroke="#262626" stroke-width="1" />
<text x="480.5" y="154" font-size="9.0" text-anchor="end" fill="#111" stroke="#111" stroke-width="0.16" >0.0</text>
<line x1="482.7" y1="123.84" x2="485.7" y2="123.84" stroke="#262626" stroke-width="1" />
<text x="480.5" y="127.04" font-size="9.0" text-anchor="end" fill="#111" stroke="#111" stroke-width="0.16" >0.8</text>
<line x1="482.7" y1="96.88" x2="485.7" y2="96.88" stroke="#262626" stroke-width="1" />
<text x="480.5" y="100.08" font-size="9.0" text-anchor="end" fill="#111" stroke="#111" stroke-width="0.16" >1.6</text>
<line x1="482.7" y1="69.92" x2="485.7" y2="69.92" stroke="#262626" stroke-width="1" />
<text x="480.5" y="73.12" font-size="9.0" text-anchor="end" fill="#111" stroke="#111" stroke-width="0.16" >2.4</text>
<line x1="482.7" y1="42.96" x2="485.7" y2="42.96" stroke="#262626" stroke-width="1" />
<text x="480.5" y="46.16" font-size="9.0" text-anchor="end" fill="#111" stroke="#111" stroke-width="0.16" >3.2</text>
<line x1="482.7" y1="16" x2="485.7" y2="16" stroke="#262626" stroke-width="1" />
<text x="480.5" y="19.2" font-size="9.0" text-anchor="end" fill="#111" stroke="#111" stroke-width="0.16" >4.0</text>
<line x1="498.4" y1="161" x2="498.4" y2="163.5" stroke="#262626" stroke-width="1" />
<text x="498.4" y="172.6" font-size="9.0" text-anchor="middle" fill="#111" stroke="#111" stroke-width="0.16" >20</text>
<line x1="530.4" y1="161" x2="530.4" y2="163.5" stroke="#262626" stroke-width="1" />
<text x="530.4" y="172.6" font-size="9.0" text-anchor="middle" fill="#111" stroke="#111" stroke-width="0.16" >25</text>
<line x1="562.4" y1="161" x2="562.4" y2="163.5" stroke="#262626" stroke-width="1" />
<text x="562.4" y="172.6" font-size="9.0" text-anchor="middle" fill="#111" stroke="#111" stroke-width="0.16" >30</text>
<line x1="594.4" y1="161" x2="594.4" y2="163.5" stroke="#262626" stroke-width="1" />
<text x="594.4" y="172.6" font-size="9.0" text-anchor="middle" fill="#111" stroke="#111" stroke-width="0.16" >35</text>
<line x1="626.4" y1="161" x2="626.4" y2="163.5" stroke="#262626" stroke-width="1" />
<text x="626.4" y="172.6" font-size="9.0" text-anchor="middle" fill="#111" stroke="#111" stroke-width="0.16" >40</text>
<line x1="658.4" y1="161" x2="658.4" y2="163.5" stroke="#262626" stroke-width="1" />
<text x="658.4" y="172.6" font-size="9.0" text-anchor="middle" fill="#111" stroke="#111" stroke-width="0.16" >45</text>
<text x="463.2" y="92.2" font-size="12.5" text-anchor="middle" fill="#111" stroke="#111" stroke-width="0.16" transform="rotate(-90 463.2 92.2)" >F<tspan font-size="8.6" dy="3.0">t</tspan><tspan dy="-3.0">/F</tspan><tspan font-size="8.6" dy="3.0">0</tspan></text>
<text x="575.2" y="184" font-size="11.0" text-anchor="middle" fill="#111" stroke="#111" stroke-width="0.16" >Time (min/g)</text>
<text x="446.3" y="14.6" font-size="16.2" text-anchor="start" fill="#111" stroke="#111" stroke-width="0.16" >(b)</text>
<text x="505.2" y="30.2" font-size="10.4" text-anchor="start" fill="#111" stroke="#111" stroke-width="0.16" >298 K</text>
<text x="584.5" y="31.6" font-size="10.5" text-anchor="start" fill="#111" stroke="#111" stroke-width="0.16" >2.2 ml min<tspan font-size="6.5" dy="-3.5">-1</tspan></text>
<line x1="581.3" y1="47.4" x2="601.2" y2="47.4" stroke="#ff1e1e" stroke-width="1.1" />
<circle cx="591.25" cy="47.4" r="2.5" fill="#ff1e1e"/>
<text x="602.8" y="50.7" font-size="8.6" text-anchor="start" fill="#111" stroke="#111" stroke-width="0.16" ><tspan>C</tspan><tspan font-size="5.33" dy="2.58">3</tspan><tspan dy="-2.58">H</tspan><tspan font-size="5.33" dy="2.58">6</tspan><tspan dy="-2.58"> 25%</tspan></text>
<line x1="581.3" y1="60.1" x2="601.2" y2="60.1" stroke="#f07f86" stroke-width="1.1" />
<circle cx="591.25" cy="60.1" r="2.5" fill="#f07f86"/>
<text x="602.8" y="63.4" font-size="8.6" text-anchor="start" fill="#111" stroke="#111" stroke-width="0.16" ><tspan>C</tspan><tspan font-size="5.33" dy="2.58">3</tspan><tspan dy="-2.58">H</tspan><tspan font-size="5.33" dy="2.58">4</tspan><tspan dy="-2.58" dx="1.0"> 25%</tspan></text>
<line x1="581.3" y1="72.6" x2="601.2" y2="72.6" stroke="#e8be35" stroke-width="1.1" />
<circle cx="591.25" cy="72.6" r="2.5" fill="#e8be35"/>
<text x="602.8" y="75.9" font-size="8.5" text-anchor="start" fill="#111" stroke="#111" stroke-width="0.16" ><tspan>C</tspan><tspan font-size="5.27" dy="2.55">3</tspan><tspan dy="-2.55">H</tspan><tspan font-size="5.27" dy="2.55">4</tspan><tspan dy="-2.55">(PD) 25%</tspan></text>
<line x1="581.3" y1="85.2" x2="601.2" y2="85.2" stroke="#4a8ff5" stroke-width="1.1" />
<circle cx="591.25" cy="85.2" r="2.5" fill="#4a8ff5"/>
<text x="602.8" y="88.5" font-size="8.6" text-anchor="start" fill="#111" stroke="#111" stroke-width="0.16" ><tspan>C</tspan><tspan font-size="5.33" dy="2.58">3</tspan><tspan dy="-2.58">H</tspan><tspan font-size="5.33" dy="2.58">8</tspan><tspan dy="-2.58" dx="1.0"> 25%</tspan></text>
<polyline points="73,343.6 82.2,232.1 90.5,229.1 99.1,227.6 108.1,227.6 116.9,235.8 125.8,262.6 134.9,280 143.5,284 152.5,285.3 161.4,285.5 170.2,285.5 179.1,285.5 188.3,285.5" fill="none" stroke="#ff1e1e" stroke-width="1.2" stroke-linejoin="round" />
<circle cx="82.2" cy="232.1" r="2.5" fill="#ff1e1e"/>
<circle cx="90.5" cy="229.1" r="2.5" fill="#ff1e1e"/>
<circle cx="99.1" cy="227.6" r="2.5" fill="#ff1e1e"/>
<circle cx="108.1" cy="227.6" r="2.5" fill="#ff1e1e"/>
<circle cx="116.9" cy="235.8" r="2.5" fill="#ff1e1e"/>
<circle cx="125.8" cy="262.6" r="2.5" fill="#ff1e1e"/>
<circle cx="134.9" cy="280" r="2.5" fill="#ff1e1e"/>
<circle cx="143.5" cy="284" r="2.5" fill="#ff1e1e"/>
<circle cx="152.5" cy="285.3" r="2.5" fill="#ff1e1e"/>
<circle cx="161.4" cy="285.5" r="2.5" fill="#ff1e1e"/>
<circle cx="170.2" cy="285.5" r="2.5" fill="#ff1e1e"/>
<circle cx="179.1" cy="285.5" r="2.5" fill="#ff1e1e"/>
<circle cx="188.3" cy="285.5" r="2.5" fill="#ff1e1e"/>
<polyline points="46.4,343.6 55.3,343.6 63.9,343.6 73,343.6 82.2,343.6 90.5,343.6 99.1,343.6 108.1,342.6 116.9,334 125.8,308.4 134.9,291.4 143.5,287 152.5,285.7 161.4,285.3 170.2,285.3 179.1,285.3 188.3,285.3" fill="none" stroke="#4a8ff5" stroke-width="1.2" stroke-linejoin="round" />
<circle cx="46.4" cy="343.6" r="2.5" fill="#4a8ff5"/>
<circle cx="55.3" cy="343.6" r="2.5" fill="#4a8ff5"/>
<circle cx="63.9" cy="343.6" r="2.5" fill="#4a8ff5"/>
<circle cx="73" cy="343.6" r="2.5" fill="#4a8ff5"/>
<circle cx="82.2" cy="343.6" r="2.5" fill="#4a8ff5"/>
<circle cx="90.5" cy="343.6" r="2.5" fill="#4a8ff5"/>
<circle cx="99.1" cy="343.6" r="2.5" fill="#4a8ff5"/>
<circle cx="108.1" cy="342.6" r="2.5" fill="#4a8ff5"/>
<circle cx="116.9" cy="334" r="2.5" fill="#4a8ff5"/>
<circle cx="125.8" cy="308.4" r="2.5" fill="#4a8ff5"/>
<circle cx="134.9" cy="291.4" r="2.5" fill="#4a8ff5"/>
<circle cx="143.5" cy="287" r="2.5" fill="#4a8ff5"/>
<circle cx="152.5" cy="285.7" r="2.5" fill="#4a8ff5"/>
<circle cx="161.4" cy="285.3" r="2.5" fill="#4a8ff5"/>
<circle cx="170.2" cy="285.3" r="2.5" fill="#4a8ff5"/>
<circle cx="179.1" cy="285.3" r="2.5" fill="#4a8ff5"/>
<circle cx="188.3" cy="285.3" r="2.5" fill="#4a8ff5"/>
<rect x="38.5" y="204.4" width="172.5" height="144.2" fill="none" stroke="#262626" stroke-width="1"/>
<line x1="35.5" y1="343.6" x2="38.5" y2="343.6" stroke="#262626" stroke-width="1" />
<text x="33.3" y="346.8" font-size="9.0" text-anchor="end" fill="#111" stroke="#111" stroke-width="0.16" >0.0</text>
<line x1="35.5" y1="314.35" x2="38.5" y2="314.35" stroke="#262626" stroke-width="1" />
<text x="33.3" y="317.55" font-size="9.0" text-anchor="end" fill="#111" stroke="#111" stroke-width="0.16" >0.5</text>
<line x1="35.5" y1="285.1" x2="38.5" y2="285.1" stroke="#262626" stroke-width="1" />
<text x="33.3" y="288.3" font-size="9.0" text-anchor="end" fill="#111" stroke="#111" stroke-width="0.16" >1.0</text>
<line x1="35.5" y1="255.85" x2="38.5" y2="255.85" stroke="#262626" stroke-width="1" />
<text x="33.3" y="259.05" font-size="9.0" text-anchor="end" fill="#111" stroke="#111" stroke-width="0.16" >1.5</text>
<line x1="35.5" y1="226.6" x2="38.5" y2="226.6" stroke="#262626" stroke-width="1" />
<text x="33.3" y="229.8" font-size="9.0" text-anchor="end" fill="#111" stroke="#111" stroke-width="0.16" >2.0</text>
<line x1="38.6" y1="348.6" x2="38.6" y2="351.1" stroke="#262626" stroke-width="1" />
<text x="38.6" y="361.3" font-size="9.0" text-anchor="middle" fill="#111" stroke="#111" stroke-width="0.16" >20</text>
<line x1="67.35" y1="348.6" x2="67.35" y2="351.1" stroke="#262626" stroke-width="1" />
<text x="67.35" y="361.3" font-size="9.0" text-anchor="middle" fill="#111" stroke="#111" stroke-width="0.16" >25</text>
<line x1="96.1" y1="348.6" x2="96.1" y2="351.1" stroke="#262626" stroke-width="1" />
<text x="96.1" y="361.3" font-size="9.0" text-anchor="middle" fill="#111" stroke="#111" stroke-width="0.16" >30</text>
<line x1="124.85" y1="348.6" x2="124.85" y2="351.1" stroke="#262626" stroke-width="1" />
<text x="124.85" y="361.3" font-size="9.0" text-anchor="middle" fill="#111" stroke="#111" stroke-width="0.16" >35</text>
<line x1="153.6" y1="348.6" x2="153.6" y2="351.1" stroke="#262626" stroke-width="1" />
<text x="153.6" y="361.3" font-size="9.0" text-anchor="middle" fill="#111" stroke="#111" stroke-width="0.16" >40</text>
<line x1="182.35" y1="348.6" x2="182.35" y2="351.1" stroke="#262626" stroke-width="1" />
<text x="182.35" y="361.3" font-size="9.0" text-anchor="middle" fill="#111" stroke="#111" stroke-width="0.16" >45</text>
<line x1="211.1" y1="348.6" x2="211.1" y2="351.1" stroke="#262626" stroke-width="1" />
<text x="211.1" y="361.3" font-size="9.0" text-anchor="middle" fill="#111" stroke="#111" stroke-width="0.16" >50</text>
<text x="15.8" y="279.9" font-size="12.5" text-anchor="middle" fill="#111" stroke="#111" stroke-width="0.16" transform="rotate(-90 15.8 279.9)" >F<tspan font-size="8.6" dy="3.0">t</tspan><tspan dy="-3.0">/F</tspan><tspan font-size="8.6" dy="3.0">0</tspan></text>
<text x="123" y="376.6" font-size="11.0" text-anchor="middle" fill="#111" stroke="#111" stroke-width="0.16" >Time (min/g)</text>
<text x="1.8" y="205.1" font-size="16.2" text-anchor="start" fill="#111" stroke="#111" stroke-width="0.16" >(c)</text>
<text x="55.6" y="223.4" font-size="10.4" text-anchor="start" fill="#111" stroke="#111" stroke-width="0.16" >298K</text>
<text x="149.5" y="223.4" font-size="10.3" text-anchor="start" fill="#111" stroke="#111" stroke-width="0.16" >ZU-921</text>
<text x="143.6" y="312.2" font-size="10.5" text-anchor="start" fill="#111" stroke="#111" stroke-width="0.16" >2.2 ml min<tspan font-size="6.5" dy="-3.5">-1</tspan></text>
<line x1="138" y1="325.6" x2="157.5" y2="325.6" stroke="#ff1e1e" stroke-width="1.1" />
<circle cx="147.75" cy="325.6" r="2.5" fill="#ff1e1e"/>
<text x="159.4" y="328.9" font-size="8.5" text-anchor="start" fill="#111" stroke="#111" stroke-width="0.16" ><tspan>C</tspan><tspan font-size="5.27" dy="2.55">3</tspan><tspan dy="-2.55">H</tspan><tspan font-size="5.27" dy="2.55">6</tspan><tspan dy="-2.55"> 50%</tspan></text>
<line x1="138" y1="338.3" x2="157.5" y2="338.3" stroke="#4a8ff5" stroke-width="1.1" />
<circle cx="147.75" cy="338.3" r="2.5" fill="#4a8ff5"/>
<text x="159.4" y="341.6" font-size="8.5" text-anchor="start" fill="#111" stroke="#111" stroke-width="0.16" ><tspan>C</tspan><tspan font-size="5.27" dy="2.55">3</tspan><tspan dy="-2.55">H</tspan><tspan font-size="5.27" dy="2.55">8</tspan><tspan dy="-2.55" dx="1.2"> 50%</tspan></text>
<rect x="264.8" y="216.2" width="15.6" height="134.1" fill="#ff1c12"/>
<rect x="291.6" y="217.89" width="15.6" height="132.41" fill="#ff1c12"/>
<rect x="318.3" y="218.61" width="15.6" height="131.69" fill="#ff1c12"/>
<rect x="345.6" y="221.99" width="15.6" height="128.31" fill="#4485fd"/>
<rect x="372.3" y="218.61" width="15.6" height="131.69" fill="#4485fd"/>
<rect x="398.9" y="221.02" width="15.6" height="129.28" fill="#4485fd"/>
<line x1="339.5" y1="208.9" x2="339.5" y2="350.3" stroke="#222" stroke-width="1" stroke-dasharray="3.5,3.3" />
<line x1="259.1" y1="205.4" x2="339.4" y2="205.4" stroke="#222" stroke-width="1" />
<line x1="339.4" y1="205.8" x2="420.5" y2="205.8" stroke="#777" stroke-width="1.2" />
<line x1="259.1" y1="350.3" x2="420.5" y2="350.3" stroke="#262626" stroke-width="1" />
<line x1="259.1" y1="204.9" x2="259.1" y2="350.8" stroke="#ff1e1e" stroke-width="1" />
<line x1="420.5" y1="204.9" x2="420.5" y2="350.8" stroke="#4a8ff5" stroke-width="1" />
<line x1="256.1" y1="350.2" x2="259.1" y2="350.2" stroke="#ff1e1e" stroke-width="1" />
<text x="254.3" y="353.4" font-size="9.0" text-anchor="end" fill="#f24848" stroke="#f24848" stroke-width="0.16" >0</text>
<line x1="420.5" y1="350.2" x2="423.5" y2="350.2" stroke="#4a8ff5" stroke-width="1" />
<text x="425.1" y="353.4" font-size="9.0" text-anchor="start" fill="#4b90f2" stroke="#4b90f2" stroke-width="0.16" >0</text>
<line x1="256.1" y1="326.1" x2="259.1" y2="326.1" stroke="#ff1e1e" stroke-width="1" />
<text x="254.3" y="329.3" font-size="9.0" text-anchor="end" fill="#f24848" stroke="#f24848" stroke-width="0.16" >5</text>
<line x1="420.5" y1="326.1" x2="423.5" y2="326.1" stroke="#4a8ff5" stroke-width="1" />
<text x="425.1" y="329.3" font-size="9.0" text-anchor="start" fill="#4b90f2" stroke="#4b90f2" stroke-width="0.16" >5</text>
<line x1="256.1" y1="302" x2="259.1" y2="302" stroke="#ff1e1e" stroke-width="1" />
<text x="254.3" y="305.2" font-size="9.0" text-anchor="end" fill="#f24848" stroke="#f24848" stroke-width="0.16" >10</text>
<line x1="420.5" y1="302" x2="423.5" y2="302" stroke="#4a8ff5" stroke-width="1" />
<text x="425.1" y="305.2" font-size="9.0" text-anchor="start" fill="#4b90f2" stroke="#4b90f2" stroke-width="0.16" >10</text>
<line x1="256.1" y1="277.9" x2="259.1" y2="277.9" stroke="#ff1e1e" stroke-width="1" />
<text x="254.3" y="281.1" font-size="9.0" text-anchor="end" fill="#f24848" stroke="#f24848" stroke-width="0.16" >15</text>
<line x1="420.5" y1="277.9" x2="423.5" y2="277.9" stroke="#4a8ff5" stroke-width="1" />
<text x="425.1" y="281.1" font-size="9.0" text-anchor="start" fill="#4b90f2" stroke="#4b90f2" stroke-width="0.16" >15</text>
<line x1="256.1" y1="253.8" x2="259.1" y2="253.8" stroke="#ff1e1e" stroke-width="1" />
<text x="254.3" y="257" font-size="9.0" text-anchor="end" fill="#f24848" stroke="#f24848" stroke-width="0.16" >20</text>
<line x1="420.5" y1="253.8" x2="423.5" y2="253.8" stroke="#4a8ff5" stroke-width="1" />
<text x="425.1" y="257" font-size="9.0" text-anchor="start" fill="#4b90f2" stroke="#4b90f2" stroke-width="0.16" >20</text>
<line x1="256.1" y1="229.7" x2="259.1" y2="229.7" stroke="#ff1e1e" stroke-width="1" />
<text x="254.3" y="232.9" font-size="9.0" text-anchor="end" fill="#f24848" stroke="#f24848" stroke-width="0.16" >25</text>
<line x1="420.5" y1="229.7" x2="423.5" y2="229.7" stroke="#4a8ff5" stroke-width="1" />
<text x="425.1" y="232.9" font-size="9.0" text-anchor="start" fill="#4b90f2" stroke="#4b90f2" stroke-width="0.16" >25</text>
<line x1="256.1" y1="205.6" x2="259.1" y2="205.6" stroke="#ff1e1e" stroke-width="1" />
<text x="254.3" y="208.8" font-size="9.0" text-anchor="end" fill="#f24848" stroke="#f24848" stroke-width="0.16" >30</text>
<line x1="420.5" y1="205.6" x2="423.5" y2="205.6" stroke="#4a8ff5" stroke-width="1" />
<text x="425.1" y="208.8" font-size="9.0" text-anchor="start" fill="#4b90f2" stroke="#4b90f2" stroke-width="0.16" >30</text>
<line x1="272.6" y1="350.3" x2="272.6" y2="352.8" stroke="#262626" stroke-width="1" />
<text x="272.6" y="361.8" font-size="9.0" text-anchor="middle" fill="#111" stroke="#111" stroke-width="0.16" >1</text>
<line x1="299.4" y1="350.3" x2="299.4" y2="352.8" stroke="#262626" stroke-width="1" />
<text x="299.4" y="361.8" font-size="9.0" text-anchor="middle" fill="#111" stroke="#111" stroke-width="0.16" >2</text>
<line x1="326.1" y1="350.3" x2="326.1" y2="352.8" stroke="#262626" stroke-width="1" />
<text x="326.1" y="361.8" font-size="9.0" text-anchor="middle" fill="#111" stroke="#111" stroke-width="0.16" >3</text>
<line x1="353.4" y1="350.3" x2="353.4" y2="352.8" stroke="#262626" stroke-width="1" />
<text x="353.4" y="361.8" font-size="9.0" text-anchor="middle" fill="#111" stroke="#111" stroke-width="0.16" >4</text>
<line x1="380.1" y1="350.3" x2="380.1" y2="352.8" stroke="#262626" stroke-width="1" />
<text x="380.1" y="361.8" font-size="9.0" text-anchor="middle" fill="#111" stroke="#111" stroke-width="0.16" >5</text>
<line x1="406.7" y1="350.3" x2="406.7" y2="352.8" stroke="#262626" stroke-width="1" />
<text x="406.7" y="361.8" font-size="9.0" text-anchor="middle" fill="#111" stroke="#111" stroke-width="0.16" >6</text>
<text x="342.6" y="377.2" font-size="11.2" text-anchor="middle" fill="#111" stroke="#111" stroke-width="0.16" >Number of cycles</text>
<text x="219.8" y="204.6" font-size="16.2" text-anchor="start" fill="#111" stroke="#111" stroke-width="0.16" >(d)</text>
<text x="239.6" y="283" font-size="10.75" text-anchor="middle" fill="#111" stroke="#111" stroke-width="0.16" transform="rotate(-90 239.6 283)" ><tspan>C</tspan><tspan font-size="6.67" dy="2.4">3</tspan><tspan dy="-2.4">H</tspan><tspan font-size="6.67" dy="2.4">6</tspan><tspan dy="-2.4"> breakthrough time (min)</tspan></text>
<text x="440.1" y="281.2" font-size="10.75" text-anchor="middle" fill="#111" stroke="#111" stroke-width="0.16" transform="rotate(90 440.1 281.2)" ><tspan>C</tspan><tspan font-size="6.67" dy="2.4">3</tspan><tspan dy="-2.4">H</tspan><tspan font-size="6.67" dy="2.4">8</tspan><tspan dy="-2.4"> breakthrough time (min)</tspan></text>
<polyline points="484.9,233.85 485.01,233.66 485.11,233.94 485.21,233.47 485.31,233.73 485.42,233.55 485.52,233.27 485.62,233.53 485.73,233.14 485.83,233.36 485.93,233.05 486.04,233.01 486.14,233.19 486.24,233.42 486.35,232.88 486.45,232.9 486.55,233.14 486.66,233.31 486.76,233.01 486.86,232.83 486.97,233.2 487.07,232.5 487.17,233.03 487.28,232.59 487.38,232.44 487.48,232.38 487.59,232.48 487.69,232.79 487.79,232.31 487.89,232.55 488,232.55 488.1,232.33 488.2,232.42 488.31,232.04 488.41,232 488.51,232.07 488.62,232.37 488.72,232.15 488.82,232.04 488.93,232.2 489.03,232.07 489.13,231.93 489.24,232.24 489.34,232.14 489.44,231.79 489.55,231.99 489.65,231.92 489.75,232.14 489.86,232 489.96,231.66 490.06,232.12 490.17,231.48 490.27,231.66 490.37,231.87 490.47,231.41 490.58,231.62 490.68,231.28 490.78,231.69 490.89,231.72 490.99,231.56 491.09,231.74 491.2,231.32 491.3,231.56 491.4,231.46 491.51,231.42 491.61,231.31 491.71,231.55 491.82,231.59 491.92,231.22 492.02,231.28 492.13,230.71 492.23,230.86 492.33,230.24 492.44,229.41 492.54,227.51 492.64,224.5 492.75,221.13 492.85,217.44 492.95,213.3 493.05,210.93 493.16,209.73 493.26,210.65 493.36,213.24 493.47,217.38 493.57,220.78 493.67,224.26 493.78,226.96 493.88,229.03 493.98,229.51 494.09,230.32 494.19,230.64 494.29,230.98 494.4,230.96 494.5,231 494.6,230.58 494.71,230.67 494.81,230.62 494.91,230.98 495.02,231.02 495.12,230.45 495.22,230.46 495.33,230.5 495.43,230.49 495.53,230.67 495.63,230.74 495.74,230.51 495.84,230.32 495.94,230.61 496.05,230.58 496.15,230.72 496.25,230.99 496.36,230.81 496.46,230.69 496.56,230.77 496.67,230.81 496.77,230.38 496.87,230.98 496.98,230.91 497.08,230.98 497.18,230.94 497.29,230.66 497.39,230.68 497.49,230.48 497.6,230.86 497.7,230.47 497.8,230.49 497.91,230.6 498.01,230.58 498.11,230.72 498.21,230.53 498.32,230.51 498.42,230.63 498.52,230.61 498.63,230.8 498.73,230.58 498.83,231.19 498.94,231.02 499.04,230.71 499.14,230.8 499.25,230.88 499.35,230.91 499.45,230.76 499.56,231.28 499.66,231.4 499.76,231.05 499.87,231.07 499.97,230.81 500.07,230.84 500.18,231.02 500.28,230.98 500.38,231.39 500.49,230.94 500.59,230.86 500.69,231.52 500.79,231.24 500.9,230.99 501,231.28 501.1,230.93 501.21,231.29 501.31,231.62 501.41,231.56 501.52,231.45 501.62,231.16 501.72,231.24 501.83,231.12 501.93,231.55 502.03,231.39 502.14,231.58 502.24,231.27 502.34,231.21 502.45,231.63 502.55,231.76 502.65,231.68 502.76,231.65 502.86,231.67 502.96,231.62 503.07,231.27 503.17,231.48 503.27,231.38 503.37,231.15 503.48,231.16 503.58,231.34 503.68,231.33 503.79,231.64 503.89,231.83 503.99,231.48 504.1,231.83 504.2,231.87 504.3,231.85 504.41,231.44 504.51,231.34 504.61,231.33 504.72,231.26 504.82,231.15 504.92,231.19 505.03,230.88 505.13,229.93 505.23,228.25 505.34,226.38 505.44,224.05 505.54,221.01 505.65,219.28 505.75,218.22 505.85,218.11 505.95,219.27 506.06,221.12 506.16,223.23 506.26,225.7 506.37,226.73 506.47,227.56 506.57,227.41 506.68,226.24 506.78,225.36 506.88,225.11 506.99,224.84 507.09,224.95 507.19,225.9 507.3,227.17 507.4,228.94 507.5,229.94 507.61,230.26 507.71,231.25 507.81,231.66 507.92,231.59 508.02,231.45 508.12,231.62 508.23,231.34 508.33,231.26 508.43,231.93 508.53,231.7 508.64,231.62 508.74,231.9 508.84,231.55 508.95,231.86 509.05,231.83 509.15,231.4 509.26,231.43 509.36,231.46 509.46,231.42 509.57,231.66 509.67,231.43 509.77,231.54 509.88,231.34 509.98,231.89 510.08,231.5 510.19,231.57 510.29,231.66 510.39,231.88 510.5,231.55 510.6,231.89 510.7,231.6 510.81,231.62 510.91,231.62 511.01,231.26 511.11,231.56 511.22,231.38 511.32,231.25 511.42,231.81 511.53,231.37 511.63,231.58 511.73,231.76 511.84,231.64 511.94,231.48 512.04,231.61 512.15,231.64 512.25,231.8 512.35,231.33 512.46,231.64 512.56,231.42 512.66,231.44 512.77,231.79 512.87,231.6 512.97,231.62 513.08,231.7 513.18,231.65 513.28,230.99 513.39,230.43 513.49,229.16 513.59,227.35 513.69,225.1 513.8,222.3 513.9,220.05 514,218.66 514.11,218.98 514.21,220.17 514.31,222.6 514.42,225.27 514.52,227.18 514.62,229.2 514.73,230.66 514.83,231.26 514.93,231.11 515.04,231.25 515.14,231.53 515.24,231.29 515.35,231.42 515.45,231.3 515.55,231.72 515.66,231.8 515.76,231.88 515.86,231.36 515.97,231.75 516.07,231.71 516.17,231.35 516.27,231.87 516.38,231.93 516.48,231.4 516.58,231.92 516.69,231.53 516.79,231.59 516.89,231.94 517,231.83 517.1,231.36 517.2,231.55 517.31,231.61 517.41,231.49 517.51,231.39 517.62,231.47 517.72,231.76 517.82,231.26 517.93,231.64 518.03,231.56 518.13,231.26 518.24,231.48 518.34,231.69 518.44,231.61 518.55,231.3 518.65,231.94 518.75,231.8 518.85,231.93 518.96,231.32 519.06,231.44 519.16,231.28 519.27,231.8 519.37,231.44 519.47,231.34 519.58,231.55 519.68,231.89 519.78,231.82 519.89,231.43 519.99,231.35 520.09,231.89 520.2,231.65 520.3,231.74 520.4,231.31 520.51,231.29 520.61,231.73 520.71,231.55 520.82,231.3 520.92,231.91 521.02,231.69 521.13,231.81 521.23,231.31 521.33,231.85 521.43,231.3 521.54,231.85 521.64,231.57 521.74,231.49 521.85,231.64 521.95,231.9 522.05,231.44 522.16,231.34 522.26,231.62 522.36,231.42 522.47,231.33 522.57,231.36 522.67,231.29 522.78,231.39 522.88,231.47 522.98,231.46 523.09,231.78 523.19,231.45 523.29,231.6 523.4,231.37 523.5,231.49 523.6,231.26 523.71,231.43 523.81,231.26 523.91,231.76 524.01,231.64 524.12,231.38 524.22,231.58 524.32,231.9 524.43,231.32 524.53,231.82 524.63,231.55 524.74,231.6 524.84,231.83 524.94,231.53 525.05,231.6 525.15,231.73 525.25,231.94 525.36,231.49 525.46,231.83 525.56,231.74 525.67,231.7 525.77,231.53 525.87,231.49 525.98,231.29 526.08,231.34 526.18,231.3 526.29,231.77 526.39,231.43 526.49,231.36 526.59,231.31 526.7,231.84 526.8,231.86 526.9,231.72 527.01,231.45 527.11,231.42 527.21,231.46 527.32,231.57 527.42,231.36 527.52,231.56 527.63,231.43 527.73,231.92 527.83,231.93 527.94,231.63 528.04,231.42 528.14,231.93 528.25,231.47 528.35,231.5 528.45,231.25 528.56,231.52 528.66,231.58 528.76,231.6 528.87,231.39 528.97,231.6 529.07,231.25 529.17,231.43 529.28,231.31 529.38,231.53 529.48,231.28 529.59,231.27 529.69,231.46 529.79,231.41 529.9,231.66 530,231.62 530.1,231.78 530.21,231.71 530.31,231.75 530.41,231.87 530.52,231.52 530.62,231.48 530.72,231.93 530.83,231.34 530.93,231.7 531.03,231.56 531.14,230.95 531.24,231.15 531.34,230.61 531.45,229.61 531.55,228.69 531.65,227.77 531.75,226.56 531.86,226.56 531.96,226.82 532.06,227.78 532.17,228.74 532.27,229.75 532.37,230.4 532.48,231.19 532.58,231.39 532.68,231.58 532.79,231.33 532.89,231.19 532.99,231.17 533.1,231.13 533.2,230.59 533.3,230.52 533.41,229.53 533.51,228.67 533.61,227.81 533.72,227.27 533.82,227.01 533.92,227.03 534.03,228.34 534.13,229.21 534.23,229.91 534.33,230.61 534.44,231.14 534.54,230.94 534.64,231.45 534.75,231.01 534.85,230.71 534.95,230.62 535.06,230.74 535.16,230.26 535.26,230.63 535.37,230.92 535.47,230.78 535.57,230.92 535.68,231.16 535.78,231.38 535.88,231.37 535.99,230.97 536.09,230.44 536.19,229.19 536.3,228.15 536.4,227.09 536.5,226.5 536.61,225.73 536.71,226.07 536.81,226.41 536.91,227.51 537.02,228.81 537.12,230.08 537.22,230.82 537.33,231.27 537.43,231.25 537.53,231.53 537.64,231.55 537.74,231.57 537.84,231.33 537.95,231.87 538.05,231.39 538.15,231.93 538.26,231.91 538.36,231.26 538.46,231.57 538.57,231.81 538.67,231.89 538.77,231.45 538.88,231.14 538.98,230.69 539.08,230.46 539.19,228.76 539.29,227.47 539.39,225.52 539.49,224.51 539.6,224.33 539.7,224.24 539.8,226 539.91,227.42 540.01,229.24 540.11,230.29 540.22,230.71 540.32,231.58 540.42,231.48 540.53,231.23 540.63,231.24 540.73,231.59 540.84,231.56 540.94,231.46 541.04,231.35 541.15,231.49 541.25,231.47 541.35,231.84 541.46,231.25 541.56,231.78 541.66,231.84 541.77,231.33 541.87,231.9 541.97,231.75 542.07,231.88 542.18,231.45 542.28,231.51 542.38,231.53 542.49,231.95 542.59,231.66 542.69,231.5 542.8,231.55 542.9,231.44 543,231.28 543.11,231.32 543.21,231.83 543.31,231.45 543.42,231.9 543.52,231.42 543.62,231.43 543.73,231.6 543.83,231.36 543.93,231.47 544.04,231.83 544.14,231.69 544.24,231.51 544.35,231.18 544.45,231.1 544.55,230.79 544.65,230.15 544.76,229.91 544.86,229.16 544.96,229.48 545.07,229.29 545.17,229.65 545.27,229.86 545.38,229.96 545.48,230.16 545.58,231.11 545.69,230.83 545.79,231.27 545.89,231.31 546,231.37 546.1,231.72 546.2,231.91 546.31,231.42 546.41,231.71 546.51,231.46 546.62,231.64 546.72,231.53 546.82,231.37 546.93,231.36 547.03,231.4 547.13,231.88 547.23,231.6 547.34,231.4 547.44,231.88 547.54,231.95 547.65,231.56 547.75,231.35 547.85,231.38 547.96,231.31 548.06,231.49 548.16,231.31 548.27,231.42 548.37,231.43 548.47,231.65 548.58,231.87 548.68,231.77 548.78,231.52 548.89,231.5 548.99,231.54 549.09,231.37 549.2,231.25 549.3,230.91 549.4,230.88 549.51,231.15 549.61,230.34 549.71,230.41 549.81,230.36 549.92,230.47 550.02,230.07 550.12,230.24 550.23,230.42 550.33,230.75 550.43,230.99 550.54,231.53 550.64,231.6 550.74,231.72 550.85,231.19 550.95,231.23 551.05,231.73 551.16,231.87 551.26,231.58 551.36,231.66 551.47,231.25 551.57,231.52 551.67,231.9 551.78,231.83 551.88,231.85 551.98,231.93 552.09,231.42 552.19,231.33 552.29,231.36 552.39,231.62 552.5,231.73 552.6,231.91 552.7,231.76 552.81,231.7 552.91,231.79 553.01,231.57 553.12,231.64 553.22,231.28 553.32,231.8 553.43,231.41 553.53,231.89 553.63,231.7 553.74,231.46 553.84,231.34 553.94,231.43 554.05,231.7 554.15,231.74 554.25,231.33 554.36,231.3 554.46,231.62 554.56,231.66 554.67,231.52 554.77,231.41 554.87,231.67 554.97,231.26 555.08,231.46 555.18,231.57 555.28,231.92 555.39,231.7 555.49,231.87 555.59,231.58 555.7,231.41 555.8,231.42 555.9,231.92 556.01,231.74 556.11,231.47 556.21,231.27 556.32,231.6 556.42,231.72 556.52,231.54 556.63,231.43 556.73,231.72 556.83,231.9 556.94,231.41 557.04,231.27 557.14,231.49 557.25,231.54 557.35,231.73 557.45,231.39 557.55,231.81 557.66,231.77 557.76,231.6 557.86,231.39 557.97,231.93 558.07,231.47 558.17,231.82 558.28,231.41 558.38,231.41 558.48,231.78 558.59,231.46 558.69,231.92 558.79,231.6 558.9,231.38 559,231.41 559.1,231.54 559.21,231.72 559.31,231.91 559.41,231.35 559.52,231.53 559.62,231.4 559.72,231.93 559.83,231.35 559.93,231.29 560.03,231.29 560.13,231.53 560.24,231.88 560.34,231.87 560.44,231.76 560.55,231.95 560.65,231.9 560.75,231.48 560.86,231.38 560.96,231.91 561.06,231.77 561.17,231.27 561.27,231.72 561.37,231.51 561.48,231.51 561.58,231.48 561.68,231.37 561.79,231.25 561.89,231.43 561.99,231.47 562.1,231.85 562.2,231.19 562.3,231.65 562.41,230.9 562.51,230.7 562.61,230.62 562.71,230.15 562.82,229.41 562.92,228.77 563.02,228.85 563.13,228.78 563.23,229.38 563.33,229.25 563.44,229.83 563.54,230.67 563.64,230.47 563.75,231.05 563.85,231.54 563.95,231.64 564.06,231.21 564.16,231.24 564.26,231.28 564.37,231.89 564.47,231.43 564.57,231.77 564.68,231.88 564.78,231.49 564.88,231.44 564.99,231.92 565.09,231.68 565.19,231.43 565.29,231.75 565.4,231.47 565.5,231.44 565.6,231.25 565.71,231.78 565.81,231.89 565.91,231.69 566.02,231.91 566.12,231.27 566.22,231.41 566.33,231.58 566.43,231.92 566.53,231.92 566.64,231.52 566.74,231.43 566.84,231.55 566.95,231.6 567.05,231.9 567.15,231.38 567.26,231.81 567.36,231.77 567.46,231.83 567.57,231.79 567.67,231.68 567.77,231.48 567.87,231.47 567.98,231.5 568.08,231.8 568.18,231.31 568.29,231.39 568.39,231.78 568.49,231.42 568.6,231.3 568.7,231.27 568.8,231.64 568.91,231.48 569.01,231.94 569.11,231.87 569.22,231.94 569.32,231.44 569.42,231.31 569.53,231.32 569.63,231.6 569.73,231.75 569.84,231.56 569.94,231.41 570.04,231.54 570.15,231.68 570.25,231.72" fill="none" stroke="#8a22a8" stroke-width="1.05" stroke-linejoin="round" />
<polyline points="484.9,258.65 485.01,258.63 485.11,258.41 485.21,257.94 485.31,258.35 485.42,257.88 485.52,257.99 485.62,257.78 485.73,257.95 485.83,257.5 485.93,257.46 486.04,257.38 486.14,257.25 486.24,257.69 486.35,257.41 486.45,257.17 486.55,257.15 486.66,257.51 486.76,257.11 486.86,256.85 486.97,257.2 487.07,257.03 487.17,257.21 487.28,256.53 487.38,256.74 487.48,256.93 487.59,256.89 487.69,256.89 487.79,256.23 487.89,256.36 488,256.19 488.1,256.19 488.2,256.7 488.31,256.38 488.41,256.58 488.51,256.14 488.62,256.44 488.72,256.11 488.82,255.94 488.93,256.26 489.03,256.33 489.13,255.71 489.24,256.01 489.34,255.99 489.44,255.67 489.55,255.73 489.65,255.54 489.75,255.55 489.86,255.54 489.96,255.75 490.06,255.75 490.17,255.4 490.27,255.23 490.37,255.42 490.47,255.63 490.58,255.25 490.68,255.31 490.78,255.2 490.89,255.58 490.99,255.37 491.09,255 491.2,255 491.3,255.17 491.4,255.25 491.51,255.28 491.61,254.87 491.71,254.89 491.82,255.23 491.92,254.98 492.02,254.83 492.13,254.71 492.23,254.9 492.33,253.93 492.44,253.16 492.54,251.44 492.64,249.16 492.75,246.44 492.85,243.1 492.95,239.4 493.05,236.93 493.16,236.42 493.26,236.89 493.36,239.07 493.47,242.9 493.57,245.95 493.67,249.22 493.78,251.21 493.88,253.07 493.98,253.69 494.09,253.96 494.19,254.07 494.29,254.54 494.4,254.63 494.5,254.82 494.6,254.23 494.71,254.6 494.81,254.41 494.91,254.49 495.02,254.23 495.12,254.32 495.22,254.48 495.33,254.76 495.43,254.18 495.53,254.44 495.63,254.66 495.74,254.77 495.84,254.23 495.94,254.18 496.05,254.75 496.15,254.77 496.25,254.42 496.36,254.12 496.46,254.74 496.56,254.36 496.67,254.73 496.77,254.53 496.87,254.68 496.98,254.22 497.08,254.66 497.18,254.28 497.29,254.41 497.39,254.73 497.49,254.72 497.6,254.28 497.7,254.31 497.8,254.45 497.91,254.54 498.01,254.46 498.11,254.29 498.21,254.39 498.32,254.73 498.42,254.86 498.52,254.28 498.63,254.65 498.73,254.8 498.83,254.31 498.94,254.88 499.04,254.39 499.14,254.74 499.25,254.72 499.35,254.79 499.45,254.58 499.56,254.67 499.66,254.8 499.76,254.7 499.87,254.88 499.97,254.74 500.07,254.75 500.18,254.47 500.28,254.9 500.38,254.82 500.49,254.66 500.59,255.04 500.69,255.06 500.79,254.85 500.9,254.67 501,254.89 501.1,254.64 501.21,254.67 501.31,254.89 501.41,254.66 501.52,254.92 501.62,254.98 501.72,254.66 501.83,255.08 501.93,254.71 502.03,255.17 502.14,255.21 502.24,255.03 502.34,254.72 502.45,255.05 502.55,254.97 502.65,255.37 502.76,254.81 502.86,255.32 502.96,255.43 503.07,255.25 503.17,255.31 503.27,254.88 503.37,255.44 503.48,255.1 503.58,255.43 503.68,255.41 503.79,254.89 503.89,255.33 503.99,255.44 504.1,254.83 504.2,255.04 504.3,255.33 504.41,254.91 504.51,255.42 504.61,254.98 504.72,255.32 504.82,254.75 504.92,254.79 505.03,254.66 505.13,253.4 505.23,252.25 505.34,250.75 505.44,248.58 505.54,246.26 505.65,244.57 505.75,243.52 505.85,244.05 505.95,244.86 506.06,246.7 506.16,248.12 506.26,250.23 506.37,250.85 506.47,251.49 506.57,251.24 506.68,250.31 506.78,249.84 506.88,249.04 506.99,248.95 507.09,249.61 507.19,249.96 507.3,251.72 507.4,252.61 507.5,253.42 507.61,254.42 507.71,254.51 507.81,255.29 507.92,255.14 508.02,255.06 508.12,255.37 508.23,255.16 508.33,254.97 508.43,255.37 508.53,254.89 508.64,255.43 508.74,255.03 508.84,255.3 508.95,255.54 509.05,255.26 509.15,255.32 509.26,255.07 509.36,254.85 509.46,254.88 509.57,254.96 509.67,255.28 509.77,255.15 509.88,255.21 509.98,255.48 510.08,254.94 510.19,255.01 510.29,255.31 510.39,254.87 510.5,254.85 510.6,255.1 510.7,254.93 510.81,255.1 510.91,255.01 511.01,255.26 511.11,255.26 511.22,254.99 511.32,255.29 511.42,255.18 511.53,254.95 511.63,255.51 511.73,255.02 511.84,254.96 511.94,254.92 512.04,255.3 512.15,255.46 512.25,255.4 512.35,255.13 512.46,255.04 512.56,254.86 512.66,255.3 512.77,255.24 512.87,255.09 512.97,255.28 513.08,255.09 513.18,255.3 513.28,254.86 513.39,253.92 513.49,253.33 513.59,251.13 513.69,249.38 513.8,246.97 513.9,244.82 514,243.5 514.11,244.01 514.21,244.67 514.31,247.07 514.42,249.66 514.52,251.2 514.62,252.84 514.73,254.17 514.83,254.7 514.93,255.09 515.04,255.34 515.14,254.95 515.24,255.06 515.35,255.06 515.45,254.88 515.55,255.47 515.66,255.4 515.76,255.35 515.86,254.86 515.97,255.44 516.07,255.37 516.17,255.18 516.27,255.37 516.38,255.17 516.48,255.01 516.58,254.92 516.69,255.01 516.79,254.88 516.89,255.09 517,255.38 517.1,255.34 517.2,255.44 517.31,255.35 517.41,255.04 517.51,255.24 517.62,255.16 517.72,255.4 517.82,255.22 517.93,255.04 518.03,255.3 518.13,255.53 518.24,255 518.34,255.47 518.44,254.86 518.55,255.03 518.65,255.02 518.75,255.37 518.85,255.51 518.96,255.37 519.06,255.08 519.16,255.47 519.27,255.08 519.37,255.02 519.47,255.49 519.58,255.29 519.68,255.34 519.78,255.32 519.89,255.54 519.99,255.18 520.09,255.44 520.2,255.34 520.3,255.45 520.4,255.16 520.51,255.36 520.61,255.25 520.71,255.07 520.82,255 520.92,255.29 521.02,254.9 521.13,255.49 521.23,254.95 521.33,254.87 521.43,254.92 521.54,255.5 521.64,255.09 521.74,254.95 521.85,254.87 521.95,254.88 522.05,255.33 522.16,255.29 522.26,255.34 522.36,255.37 522.47,254.9 522.57,255.26 522.67,255.1 522.78,255.42 522.88,255.42 522.98,255.47 523.09,254.9 523.19,255.46 523.29,255.49 523.4,255.51 523.5,254.93 523.6,254.99 523.71,254.93 523.81,254.87 523.91,255.44 524.01,255.42 524.12,255.29 524.22,255.43 524.32,255.29 524.43,255.05 524.53,254.92 524.63,254.92 524.74,255.38 524.84,254.99 524.94,255.07 525.05,255.15 525.15,254.86 525.25,255.03 525.36,255.05 525.46,255.35 525.56,255.11 525.67,255.07 525.77,255.52 525.87,255.2 525.98,255.45 526.08,255.28 526.18,254.87 526.29,255.14 526.39,255.16 526.49,255.39 526.59,255.09 526.7,255.34 526.8,255.23 526.9,255 527.01,255.45 527.11,254.91 527.21,255.42 527.32,254.97 527.42,254.85 527.52,254.99 527.63,255.38 527.73,255.53 527.83,254.85 527.94,255.19 528.04,255.19 528.14,255.41 528.25,254.98 528.35,255.2 528.45,255.09 528.56,255.43 528.66,255.03 528.76,255.51 528.87,255.05 528.97,255 529.07,255.34 529.17,255.2 529.28,254.93 529.38,255.3 529.48,254.91 529.59,255.4 529.69,255.34 529.79,255.4 529.9,255.29 530,255.1 530.1,255.13 530.21,255.13 530.31,255.47 530.41,254.91 530.52,255.47 530.62,254.87 530.72,254.99 530.83,255.02 530.93,255.44 531.03,255.09 531.14,254.87 531.24,254.96 531.34,254.07 531.45,253.62 531.55,252.93 531.65,252.35 531.75,251.8 531.86,251.52 531.96,251.52 532.06,252.05 532.17,252.67 532.27,253.89 532.37,254.37 532.48,254.86 532.58,254.72 532.68,255.04 532.79,255.33 532.89,255.19 532.99,254.81 533.1,254.9 533.2,254.93 533.3,254.06 533.41,253.45 533.51,252.85 533.61,252.51 533.72,252.18 533.82,251.61 533.92,251.88 534.03,252.49 534.13,253.21 534.23,253.98 534.33,254.22 534.44,254.66 534.54,254.72 534.64,255.3 534.75,255.06 534.85,254.49 534.95,254.93 535.06,254.18 535.16,254.29 535.26,254.71 535.37,254.66 535.47,254.77 535.57,254.72 535.68,254.67 535.78,255.03 535.88,254.6 535.99,254.43 536.09,254.11 536.19,253.17 536.3,252.56 536.4,251.92 536.5,251.1 536.61,250.6 536.71,250.81 536.81,251.28 536.91,251.91 537.02,253.16 537.12,253.81 537.22,254.63 537.33,255.12 537.43,254.99 537.53,255.19 537.64,255.35 537.74,255.14 537.84,255.01 537.95,255.36 538.05,255.47 538.15,255.39 538.26,255.34 538.36,255.45 538.46,255.32 538.57,255.29 538.67,255.14 538.77,254.98 538.88,255.06 538.98,254.37 539.08,254.02 539.19,253.36 539.29,252.11 539.39,250.78 539.49,249.52 539.6,249.27 539.7,249.66 539.8,250.77 539.91,251.89 540.01,253.28 540.11,254.38 540.22,254.43 540.32,255.08 540.42,255.31 540.53,255.09 540.63,255.18 540.73,255.53 540.84,254.88 540.94,255.23 541.04,254.96 541.15,255.4 541.25,255.51 541.35,255.21 541.46,254.92 541.56,255.25 541.66,255.23 541.77,255.35 541.87,255.21 541.97,255.3 542.07,255.43 542.18,255.22 542.28,255.14 542.38,255.51 542.49,255 542.59,255.33 542.69,255.12 542.8,255.38 542.9,254.94 543,255.54 543.11,255.1 543.21,254.89 543.31,255.04 543.42,255.13 543.52,254.86 543.62,255.14 543.73,255.14 543.83,255.32 543.93,255.06 544.04,254.97 544.14,254.88 544.24,255.14 544.35,255.13 544.45,254.65 544.55,254.19 544.65,254.32 544.76,253.78 544.86,253.45 544.96,253.28 545.07,253.73 545.17,253.87 545.27,253.95 545.38,254.09 545.48,254.43 545.58,254.44 545.69,255.15 545.79,254.87 545.89,255.17 546,255.36 546.1,255.39 546.2,255.16 546.31,255.05 546.41,255.23 546.51,254.94 546.62,255.43 546.72,255.1 546.82,255.45 546.93,255.04 547.03,255.11 547.13,255.03 547.23,255.15 547.34,254.98 547.44,254.85 547.54,255.36 547.65,255.05 547.75,255.02 547.85,255.06 547.96,255.19 548.06,255.15 548.16,255.3 548.27,255.31 548.37,255.1 548.47,255.5 548.58,255.45 548.68,254.88 548.78,255.41 548.89,255.45 548.99,255.33 549.09,254.82 549.2,255.21 549.3,254.94 549.4,254.34 549.51,254.14 549.61,254.6 549.71,254.22 549.81,253.81 549.92,253.66 550.02,253.73 550.12,253.92 550.23,254.48 550.33,254.38 550.43,254.44 550.54,255.13 550.64,255.18 550.74,254.84 550.85,255.4 550.95,255.24 551.05,255.38 551.16,255.31 551.26,255.47 551.36,255.4 551.47,255.44 551.57,254.99 551.67,255.33 551.78,255.22 551.88,255.37 551.98,255.16 552.09,255.47 552.19,255.24 552.29,255.04 552.39,255.01 552.5,254.95 552.6,255.2 552.7,254.89 552.81,255.18 552.91,254.95 553.01,255.19 553.12,255.2 553.22,255.23 553.32,255.45 553.43,254.85 553.53,255.44 553.63,255.18 553.74,255.24 553.84,255.32 553.94,255.44 554.05,255.11 554.15,255.14 554.25,255.52 554.36,254.9 554.46,255.3 554.56,255.3 554.67,254.87 554.77,255.28 554.87,255.33 554.97,255.5 555.08,255.08 555.18,255.54 555.28,255.21 555.39,255.19 555.49,255.48 555.59,254.87 555.7,255.35 555.8,255.29 555.9,255.09 556.01,255.45 556.11,255.11 556.21,255.18 556.32,255.22 556.42,255.39 556.52,255 556.63,255.15 556.73,255.15 556.83,255.24 556.94,255.43 557.04,255.06 557.14,255.43 557.25,255.13 557.35,255.2 557.45,255.04 557.55,255.2 557.66,255.53 557.76,255.31 557.86,255.4 557.97,255.08 558.07,255.07 558.17,255.06 558.28,255.26 558.38,255.29 558.48,255.4 558.59,254.88 558.69,255.36 558.79,255.47 558.9,255.23 559,254.88 559.1,255.06 559.21,254.85 559.31,254.98 559.41,255.5 559.52,255.28 559.62,255.31 559.72,255.4 559.83,255.49 559.93,255.28 560.03,255.28 560.13,255.29 560.24,255.34 560.34,255.27 560.44,255.33 560.55,255 560.65,255.32 560.75,255.17 560.86,255.38 560.96,254.92 561.06,254.98 561.17,254.88 561.27,255.39 561.37,255.49 561.48,255.31 561.58,255.11 561.68,255.42 561.79,255.4 561.89,255.23 561.99,255.01 562.1,255.01 562.2,255.04 562.3,254.86 562.41,254.78 562.51,254.69 562.61,254.58 562.71,253.61 562.82,253.62 562.92,252.96 563.02,252.85 563.13,253.34 563.23,253.34 563.33,253.87 563.44,253.89 563.54,253.94 563.64,254.51 563.75,254.89 563.85,255.29 563.95,255.43 564.06,255.13 564.16,255.12 564.26,254.91 564.37,255.3 564.47,255 564.57,254.96 564.68,254.86 564.78,254.85 564.88,255.33 564.99,254.94 565.09,255.53 565.19,254.91 565.29,255.46 565.4,254.94 565.5,254.86 565.6,255.35 565.71,255.02 565.81,255.36 565.91,254.98 566.02,254.89 566.12,255.39 566.22,255.35 566.33,255.45 566.43,255.36 566.53,254.91 566.64,255.29 566.74,255.35 566.84,255.17 566.95,255.5 567.05,255.03 567.15,255.53 567.26,255.35 567.36,254.86 567.46,254.86 567.57,255.31 567.67,255.42 567.77,254.91 567.87,255.07 567.98,255.36 568.08,254.97 568.18,255.45 568.29,255.19 568.39,254.89 568.49,255.11 568.6,255.25 568.7,255.16 568.8,255.32 568.91,254.95 569.01,255.41 569.11,255.1 569.22,255.3 569.32,255.29 569.42,255.14 569.53,255.12 569.63,255.4 569.73,255.51 569.84,255.4 569.94,255.25 570.04,255.05 570.15,254.89 570.25,255.53" fill="none" stroke="#e8be35" stroke-width="1.05" stroke-linejoin="round" />
<polyline points="484.9,288.11 485.01,288.16 485.11,287.78 485.21,287.94 485.31,288.16 485.42,288.03 485.52,287.84 485.62,287.6 485.73,287.65 485.83,287.94 485.93,287.56 486.04,287.74 486.14,287.65 486.24,287.83 486.35,287.74 486.45,287.35 486.55,287.12 486.66,287.28 486.76,287.36 486.86,287.45 486.97,287.59 487.07,287.61 487.17,286.99 487.28,287.52 487.38,287.48 487.48,287.5 487.59,287.27 487.69,287.03 487.79,287.41 487.89,287.36 488,287.25 488.1,287.38 488.2,286.96 488.31,286.75 488.41,287.06 488.51,287.2 488.62,286.76 488.72,287.12 488.82,287.22 488.93,286.71 489.03,286.95 489.13,286.97 489.24,286.8 489.34,286.59 489.44,286.6 489.55,286.92 489.65,286.92 489.75,286.67 489.86,286.38 489.96,286.86 490.06,286.81 490.17,286.41 490.27,286.62 490.37,286.82 490.47,286.78 490.58,286.5 490.68,286.45 490.78,286.5 490.89,286.19 490.99,286.17 491.09,286.13 491.2,286.47 491.3,286.21 491.4,286.33 491.51,286.19 491.61,286.24 491.71,285.96 491.82,285.85 491.92,286.47 492.02,285.96 492.13,285.61 492.23,285.63 492.33,285.05 492.44,283.33 492.54,281.53 492.64,278.22 492.75,274.25 492.85,269.28 492.95,264.91 493.05,262.4 493.16,261.13 493.26,262 493.36,265.2 493.47,269.33 493.57,274.28 493.67,278.08 493.78,281.53 493.88,283.48 493.98,284.75 494.09,285.51 494.19,285.32 494.29,285.29 494.4,285.45 494.5,285.44 494.6,285.37 494.71,285.34 494.81,285.69 494.91,285.9 495.02,285.6 495.12,285.94 495.22,285.91 495.33,285.31 495.43,285.68 495.53,285.54 495.63,285.35 495.74,285.93 495.84,285.44 495.94,285.66 496.05,285.72 496.15,285.94 496.25,285.75 496.36,285.56 496.46,285.6 496.56,285.41 496.67,285.98 496.77,286.01 496.87,285.48 496.98,285.36 497.08,285.52 497.18,285.6 497.29,286 497.39,286.01 497.49,285.98 497.6,285.44 497.7,285.97 497.8,285.94 497.91,285.91 498.01,286.16 498.11,285.53 498.21,285.61 498.32,286.05 498.42,286.2 498.52,286.03 498.63,285.79 498.73,286.01 498.83,286.15 498.94,285.71 499.04,285.88 499.14,285.85 499.25,285.78 499.35,286.05 499.45,285.85 499.56,285.92 499.66,285.87 499.76,286.27 499.87,285.82 499.97,286.33 500.07,285.99 500.18,285.89 500.28,286.54 500.38,286.06 500.49,286.58 500.59,286.55 500.69,286.58 500.79,286.08 500.9,286.31 501,286.08 501.1,286.68 501.21,286.63 501.31,286.5 501.41,286.39 501.52,286.33 501.62,286.68 501.72,286.46 501.83,286.58 501.93,286.25 502.03,286.32 502.14,286.22 502.24,286.69 502.34,286.59 502.45,286.31 502.55,286.83 502.65,286.42 502.76,286.53 502.86,286.36 502.96,286.45 503.07,286.86 503.17,286.52 503.27,286.41 503.37,286.64 503.48,286.53 503.58,286.95 503.68,286.4 503.79,287.02 503.89,286.38 503.99,286.97 504.1,286.82 504.2,286.5 504.3,286.7 504.41,286.57 504.51,286.54 504.61,286.49 504.72,286.56 504.82,286.88 504.92,286.61 505.03,286.03 505.13,284.49 505.23,283.12 505.34,281.44 505.44,278.29 505.54,276.08 505.65,273.51 505.75,272.69 505.85,272 505.95,273.8 506.06,275.62 506.16,277.93 506.26,279.98 506.37,281.98 506.47,282.28 506.57,281.73 506.68,281.07 506.78,280.45 506.88,279.29 506.99,279.41 507.09,279.64 507.19,280.72 507.3,282.48 507.4,283.78 507.5,284.57 507.61,285.33 507.71,285.89 507.81,286.57 507.92,286.66 508.02,286.59 508.12,286.57 508.23,286.87 508.33,286.94 508.43,287.01 508.53,286.86 508.64,286.59 508.74,286.49 508.84,286.96 508.95,286.73 509.05,286.95 509.15,286.49 509.26,287.02 509.36,286.68 509.46,287.04 509.57,287.05 509.67,286.79 509.77,286.46 509.88,287.09 509.98,286.78 510.08,287.06 510.19,286.64 510.29,286.58 510.39,287.03 510.5,286.71 510.6,286.56 510.7,286.71 510.81,286.87 510.91,286.45 511.01,286.81 511.11,286.76 511.22,286.81 511.32,286.54 511.42,286.95 511.53,287.02 511.63,287.06 511.73,286.68 511.84,286.95 511.94,286.72 512.04,286.98 512.15,286.49 512.25,287.06 512.35,287.12 512.46,286.8 512.56,286.81 512.66,286.82 512.77,286.82 512.87,286.46 512.97,287.11 513.08,286.54 513.18,286.4 513.28,286.09 513.39,285.69 513.49,285.2 513.59,283.29 513.69,281.55 513.8,280.01 513.9,277.93 514,276.79 514.11,277.2 514.21,278.2 514.31,279.89 514.42,281.98 514.52,283.34 514.62,285.23 514.73,286.01 514.83,286.05 514.93,286.36 515.04,286.73 515.14,286.78 515.24,286.64 515.35,286.53 515.45,286.73 515.55,286.55 515.66,286.86 515.76,287.05 515.86,286.55 515.97,286.85 516.07,286.97 516.17,286.57 516.27,287.03 516.38,287.11 516.48,286.72 516.58,286.74 516.69,287.04 516.79,286.82 516.89,286.73 517,287.11 517.1,286.99 517.2,286.69 517.31,286.62 517.41,286.68 517.51,286.76 517.62,287.14 517.72,287.01 517.82,287.09 517.93,287.02 518.03,287.04 518.13,286.49 518.24,286.81 518.34,287.12 518.44,287.1 518.55,286.62 518.65,286.75 518.75,286.89 518.85,286.71 518.96,286.82 519.06,286.5 519.16,286.75 519.27,286.8 519.37,286.46 519.47,286.55 519.58,287.13 519.68,286.99 519.78,287.11 519.89,286.89 519.99,287.02 520.09,287.07 520.2,287.07 520.3,286.47 520.4,286.9 520.51,286.64 520.61,286.92 520.71,286.64 520.82,286.83 520.92,287.1 521.02,286.88 521.13,286.63 521.23,286.81 521.33,286.75 521.43,287.12 521.54,286.65 521.64,286.66 521.74,286.9 521.85,286.53 521.95,286.87 522.05,287.12 522.16,286.81 522.26,286.64 522.36,286.78 522.47,286.82 522.57,286.55 522.67,286.54 522.78,286.54 522.88,286.66 522.98,286.73 523.09,286.65 523.19,286.62 523.29,286.51 523.4,286.83 523.5,287.04 523.6,286.88 523.71,286.85 523.81,286.91 523.91,286.59 524.01,286.95 524.12,286.77 524.22,286.83 524.32,286.88 524.43,286.78 524.53,286.67 524.63,286.62 524.74,286.61 524.84,286.81 524.94,286.72 525.05,286.86 525.15,286.46 525.25,286.7 525.36,287.05 525.46,286.62 525.56,286.84 525.67,286.79 525.77,286.65 525.87,287.14 525.98,286.66 526.08,286.99 526.18,286.56 526.29,286.5 526.39,287.06 526.49,286.76 526.59,286.49 526.7,286.72 526.8,286.76 526.9,286.96 527.01,286.53 527.11,286.61 527.21,287.12 527.32,286.97 527.42,286.56 527.52,286.69 527.63,286.7 527.73,286.92 527.83,286.88 527.94,287.05 528.04,287.02 528.14,286.81 528.25,286.97 528.35,286.97 528.45,286.98 528.56,286.78 528.66,287 528.76,286.95 528.87,287.09 528.97,286.54 529.07,287.06 529.17,286.45 529.28,286.99 529.38,286.86 529.48,286.8 529.59,287.12 529.69,286.85 529.79,286.74 529.9,287 530,287.06 530.1,286.88 530.21,286.72 530.31,286.77 530.41,286.77 530.52,286.96 530.62,286.65 530.72,286.72 530.83,286.82 530.93,286.68 531.03,286.57 531.14,286.76 531.24,286.54 531.34,285.87 531.45,285.24 531.55,284.33 531.65,283.69 531.75,283.04 531.86,283.14 531.96,283.35 532.06,283.54 532.17,284.84 532.27,285.15 532.37,286.12 532.48,286.53 532.58,286.88 532.68,286.48 532.79,286.69 532.89,287.03 532.99,286.34 533.1,286.23 533.2,286.34 533.3,285.89 533.41,285.64 533.51,284.9 533.61,284.14 533.72,284.07 533.82,283.64 533.92,283.9 534.03,284.53 534.13,284.95 534.23,285.53 534.33,286.16 534.44,286.3 534.54,286.87 534.64,286.7 534.75,286.53 534.85,286.11 534.95,286.15 535.06,286.03 535.16,286.06 535.26,286.07 535.37,286.36 535.47,286.56 535.57,286.38 535.68,286.46 535.78,286.64 535.88,286.84 535.99,286.17 536.09,285.89 536.19,285.46 536.3,284.21 536.4,283.47 536.5,283.25 536.61,282.8 536.71,282.7 536.81,282.95 536.91,284.29 537.02,284.99 537.12,285.81 537.22,286.47 537.33,286.73 537.43,286.59 537.53,286.5 537.64,286.63 537.74,286.8 537.84,286.8 537.95,286.58 538.05,286.58 538.15,286.89 538.26,286.87 538.36,286.7 538.46,287.14 538.57,286.89 538.67,286.45 538.77,286.65 538.88,286.77 538.98,286.13 539.08,285.82 539.19,284.43 539.29,283.45 539.39,282.56 539.49,281.4 539.6,281.09 539.7,281.13 539.8,282.32 539.91,283.62 540.01,284.61 540.11,285.79 540.22,286.28 540.32,286.92 540.42,286.77 540.53,286.71 540.63,286.53 540.73,286.56 540.84,286.98 540.94,286.52 541.04,286.52 541.15,286.57 541.25,286.82 541.35,287.03 541.46,286.88 541.56,287.01 541.66,286.49 541.77,286.46 541.87,286.99 541.97,286.68 542.07,286.95 542.18,286.7 542.28,286.57 542.38,286.64 542.49,286.52 542.59,287.08 542.69,286.86 542.8,286.69 542.9,286.76 543,286.72 543.11,286.49 543.21,287.07 543.31,286.86 543.42,287.12 543.52,286.76 543.62,286.88 543.73,286.62 543.83,286.46 543.93,287.06 544.04,286.97 544.14,286.53 544.24,286.83 544.35,286.61 544.45,286.03 544.55,285.97 544.65,285.92 544.76,285.31 544.86,285.4 544.96,284.78 545.07,284.88 545.17,285.24 545.27,285.12 545.38,285.47 545.48,286.16 545.58,286.16 545.69,286.59 545.79,286.37 545.89,286.43 546,286.63 546.1,286.54 546.2,287.11 546.31,286.65 546.41,286.84 546.51,286.53 546.62,286.82 546.72,286.72 546.82,286.73 546.93,286.5 547.03,286.54 547.13,287.03 547.23,286.7 547.34,286.62 547.44,286.58 547.54,286.65 547.65,286.62 547.75,286.47 547.85,286.91 547.96,286.69 548.06,286.56 548.16,286.94 548.27,286.51 548.37,286.64 548.47,287.03 548.58,286.54 548.68,286.75 548.78,287.02 548.89,286.98 548.99,286.49 549.09,286.56 549.2,286.72 549.3,286.35 549.4,286.58 549.51,285.85 549.61,286.15 549.71,285.65 549.81,285.33 549.92,285.44 550.02,285.26 550.12,285.8 550.23,285.67 550.33,286.33 550.43,286.32 550.54,286.34 550.64,286.39 550.74,286.74 550.85,286.52 550.95,287.02 551.05,286.52 551.16,286.8 551.26,286.83 551.36,286.64 551.47,286.99 551.57,286.72 551.67,286.91 551.78,286.85 551.88,286.67 551.98,286.72 552.09,286.51 552.19,286.57 552.29,287.05 552.39,286.67 552.5,286.91 552.6,286.53 552.7,286.84 552.81,286.7 552.91,286.8 553.01,286.66 553.12,286.5 553.22,286.67 553.32,286.61 553.43,286.54 553.53,286.95 553.63,286.65 553.74,286.73 553.84,287.09 553.94,286.99 554.05,287.07 554.15,287.05 554.25,286.54 554.36,286.64 554.46,286.47 554.56,286.93 554.67,286.91 554.77,286.7 554.87,286.74 554.97,286.91 555.08,286.94 555.18,286.62 555.28,287.04 555.39,286.7 555.49,286.89 555.59,286.58 555.7,286.53 555.8,287.09 555.9,286.96 556.01,286.95 556.11,286.48 556.21,286.48 556.32,286.56 556.42,286.59 556.52,286.66 556.63,286.72 556.73,286.48 556.83,286.67 556.94,286.9 557.04,286.58 557.14,287.04 557.25,286.85 557.35,286.95 557.45,286.63 557.55,286.75 557.66,286.93 557.76,286.69 557.86,286.45 557.97,287.03 558.07,286.99 558.17,286.65 558.28,286.48 558.38,287.05 558.48,286.88 558.59,286.48 558.69,286.62 558.79,286.53 558.9,287 559,286.6 559.1,287.09 559.21,286.97 559.31,286.51 559.41,286.94 559.52,286.73 559.62,286.97 559.72,287.03 559.83,286.65 559.93,286.51 560.03,287.11 560.13,286.75 560.24,287.1 560.34,286.93 560.44,286.97 560.55,287.03 560.65,286.89 560.75,286.77 560.86,286.49 560.96,286.94 561.06,286.75 561.17,286.81 561.27,287.1 561.37,286.54 561.48,286.98 561.58,286.48 561.68,286.94 561.79,287.01 561.89,286.62 561.99,286.81 562.1,287.08 562.2,286.79 562.3,286.62 562.41,286.25 562.51,285.87 562.61,285.77 562.71,285.45 562.82,284.95 562.92,284.73 563.02,284.45 563.13,284.85 563.23,284.99 563.33,284.97 563.44,285.33 563.54,285.88 563.64,286.14 563.75,286.73 563.85,286.48 563.95,286.55 564.06,287.02 564.16,286.53 564.26,286.83 564.37,286.68 564.47,287.02 564.57,286.83 564.68,286.98 564.78,286.57 564.88,286.92 564.99,286.87 565.09,286.77 565.19,286.99 565.29,287.03 565.4,286.53 565.5,286.65 565.6,286.7 565.71,286.59 565.81,286.49 565.91,286.65 566.02,286.59 566.12,286.94 566.22,286.76 566.33,286.53 566.43,286.68 566.53,286.78 566.64,286.7 566.74,286.57 566.84,286.5 566.95,286.46 567.05,287.14 567.15,286.98 567.26,286.51 567.36,286.95 567.46,287.14 567.57,286.84 567.67,286.53 567.77,286.79 567.87,286.75 567.98,286.58 568.08,286.83 568.18,286.46 568.29,287.09 568.39,286.9 568.49,286.89 568.6,287.1 568.7,286.91 568.8,286.63 568.91,286.62 569.01,286.55 569.11,286.47 569.22,286.99 569.32,287.04 569.42,286.66 569.53,286.58 569.63,286.9 569.73,287.04 569.84,287.1 569.94,286.57 570.04,287 570.15,287.03 570.25,286.97" fill="none" stroke="#2b2bff" stroke-width="1.05" stroke-linejoin="round" />
<polyline points="484.9,316.85 485.01,316.72 485.11,317.14 485.21,316.75 485.31,316.76 485.42,316.86 485.52,316.71 485.62,317 485.73,316.56 485.83,316.4 485.93,316.74 486.04,316.76 486.14,316.87 486.24,316.76 486.35,316.88 486.45,316.88 486.55,316.54 486.66,316.52 486.76,316.26 486.86,316.34 486.97,316.51 487.07,316.14 487.17,316.54 487.28,316.15 487.38,316.32 487.48,316.67 487.59,316.03 487.69,315.98 487.79,316.23 487.89,316.04 488,316.39 488.1,315.86 488.2,316.43 488.31,316.41 488.41,316.34 488.51,316.07 488.62,315.95 488.72,316.19 488.82,316.06 488.93,315.97 489.03,315.89 489.13,315.94 489.24,316.08 489.34,316.17 489.44,316.2 489.55,315.66 489.65,315.72 489.75,315.8 489.86,315.86 489.96,315.69 490.06,315.56 490.17,315.46 490.27,315.6 490.37,315.67 490.47,316 490.58,315.93 490.68,315.88 490.78,315.93 490.89,315.9 490.99,315.63 491.09,315.74 491.2,315.19 491.3,315.6 491.4,315.52 491.51,315.28 491.61,315.45 491.71,315.69 491.82,315.33 491.92,315.4 492.02,315.08 492.13,314.95 492.23,314.98 492.33,313.69 492.44,312.53 492.54,310.76 492.64,307.47 492.75,303.13 492.85,298.9 492.95,294.32 493.05,291.29 493.16,290 493.26,291.22 493.36,294.38 493.47,298.6 493.57,302.99 493.67,307.09 493.78,310.68 493.88,312.51 493.98,313.44 494.09,314.62 494.19,314.5 494.29,314.52 494.4,314.86 494.5,314.68 494.6,314.84 494.71,314.88 494.81,314.64 494.91,314.88 495.02,314.55 495.12,314.82 495.22,314.87 495.33,314.51 495.43,314.74 495.53,314.5 495.63,314.76 495.74,315.06 495.84,314.84 495.94,314.96 496.05,314.99 496.15,314.54 496.25,315.16 496.36,314.98 496.46,314.55 496.56,315.07 496.67,314.77 496.77,314.62 496.87,315.19 496.98,314.92 497.08,315.08 497.18,314.64 497.29,315.1 497.39,314.62 497.49,314.75 497.6,314.86 497.7,314.63 497.8,315.05 497.91,314.8 498.01,314.88 498.11,315.18 498.21,315 498.32,315.34 498.42,315.17 498.52,315.37 498.63,315.17 498.73,315.44 498.83,315.42 498.94,314.95 499.04,315.37 499.14,315.11 499.25,315.43 499.35,315.39 499.45,315.51 499.56,315.04 499.66,315.23 499.76,315.5 499.87,315.67 499.97,315.53 500.07,315.08 500.18,315.49 500.28,315.15 500.38,315.49 500.49,315.68 500.59,315.22 500.69,315.81 500.79,315.65 500.9,315.37 501,315.35 501.1,315.54 501.21,315.83 501.31,315.67 501.41,315.35 501.52,315.3 501.62,315.38 501.72,315.88 501.83,315.46 501.93,315.74 502.03,315.56 502.14,315.85 502.24,315.65 502.34,315.5 502.45,316.02 502.55,315.8 502.65,315.92 502.76,316.01 502.86,316.12 502.96,315.47 503.07,315.71 503.17,315.59 503.27,315.84 503.37,316.11 503.48,316.07 503.58,315.54 503.68,315.65 503.79,316.1 503.89,316.01 503.99,315.82 504.1,315.88 504.2,315.67 504.3,316.15 504.41,315.84 504.51,316.17 504.61,315.98 504.72,315.56 504.82,315.62 504.92,315.29 505.03,315.26 505.13,314.15 505.23,312.34 505.34,310.44 505.44,308.14 505.54,305.69 505.65,303.63 505.75,302.26 505.85,302.22 505.95,303.15 506.06,305.58 506.16,307.71 506.26,309.5 506.37,311.11 506.47,311.91 506.57,310.89 506.68,310.1 506.78,309.49 506.88,308.53 506.99,308.4 507.09,309.09 507.19,309.98 507.3,311.54 507.4,312.86 507.5,314.3 507.61,315.17 507.71,315.05 507.81,315.74 507.92,316.05 508.02,316.2 508.12,316.17 508.23,316.08 508.33,316.09 508.43,315.9 508.53,315.84 508.64,316.2 508.74,316.26 508.84,316.31 508.95,316.13 509.05,315.86 509.15,316.18 509.26,316.17 509.36,316.01 509.46,316.09 509.57,315.89 509.67,316.04 509.77,315.93 509.88,315.69 509.98,315.89 510.08,315.88 510.19,316.34 510.29,315.99 510.39,315.91 510.5,315.82 510.6,315.81 510.7,315.89 510.81,315.75 510.91,315.66 511.01,316.26 511.11,315.97 511.22,315.96 511.32,316.05 511.42,315.86 511.53,315.77 511.63,315.7 511.73,315.86 511.84,315.87 511.94,316.16 512.04,316.04 512.15,316.31 512.25,315.89 512.35,316.3 512.46,316.06 512.56,315.71 512.66,315.78 512.77,316.05 512.87,316.33 512.97,315.88 513.08,316.12 513.18,315.75 513.28,315.77 513.39,314.63 513.49,313.92 513.59,312.67 513.69,310.21 513.8,307.97 513.9,305.84 514,304.79 514.11,304.86 514.21,306.32 514.31,307.94 514.42,310.29 514.52,312.18 514.62,314 514.73,315.19 514.83,315.61 514.93,315.59 515.04,316.09 515.14,316.3 515.24,316.06 515.35,315.7 515.45,316.22 515.55,316.26 515.66,315.89 515.76,315.75 515.86,315.78 515.97,316.03 516.07,316.26 516.17,316.1 516.27,316.3 516.38,315.8 516.48,315.88 516.58,316.17 516.69,316.1 516.79,315.93 516.89,316.13 517,315.89 517.1,315.69 517.2,315.94 517.31,315.68 517.41,316.09 517.51,315.88 517.62,316 517.72,316.07 517.82,315.83 517.93,315.97 518.03,315.66 518.13,316.3 518.24,316.04 518.34,316.34 518.44,315.69 518.55,316.08 518.65,316.16 518.75,315.88 518.85,315.72 518.96,315.76 519.06,315.75 519.16,316.19 519.27,315.71 519.37,316.22 519.47,315.95 519.58,316.03 519.68,316.06 519.78,316.04 519.89,316.11 519.99,316.07 520.09,315.88 520.2,316.17 520.3,315.83 520.4,316.15 520.51,316.18 520.61,316.19 520.71,315.87 520.82,316.19 520.92,316.33 521.02,315.97 521.13,315.84 521.23,316.02 521.33,316.31 521.43,315.74 521.54,315.66 521.64,315.98 521.74,316.11 521.85,316.19 521.95,315.9 522.05,316.34 522.16,315.81 522.26,316.18 522.36,315.71 522.47,315.67 522.57,315.74 522.67,315.69 522.78,316 522.88,316.04 522.98,315.78 523.09,316.31 523.19,315.91 523.29,315.75 523.4,315.77 523.5,316.17 523.6,316.3 523.71,315.76 523.81,315.67 523.91,316.19 524.01,315.82 524.12,316.34 524.22,316 524.32,316.1 524.43,315.89 524.53,316.21 524.63,315.97 524.74,315.88 524.84,316.28 524.94,315.73 525.05,316.16 525.15,315.7 525.25,316.1 525.36,315.93 525.46,316.25 525.56,315.69 525.67,316.04 525.77,315.94 525.87,316.29 525.98,316.31 526.08,316.09 526.18,315.81 526.29,315.83 526.39,315.83 526.49,315.95 526.59,315.81 526.7,315.79 526.8,316.18 526.9,316.1 527.01,315.86 527.11,316.35 527.21,315.8 527.32,316.05 527.42,315.76 527.52,316.25 527.63,316.26 527.73,315.84 527.83,316.18 527.94,316.23 528.04,315.85 528.14,315.88 528.25,315.99 528.35,316.27 528.45,315.76 528.56,316.13 528.66,316.07 528.76,315.97 528.87,316.06 528.97,316.27 529.07,315.8 529.17,316.27 529.28,315.9 529.38,316.2 529.48,316.25 529.59,315.78 529.69,316.25 529.79,316.35 529.9,315.86 530,315.67 530.1,315.73 530.21,316.33 530.31,315.66 530.41,316.29 530.52,315.76 530.62,316.16 530.72,315.71 530.83,315.75 530.93,316.09 531.03,315.61 531.14,315.64 531.24,315.79 531.34,315.23 531.45,314.74 531.55,314.09 531.65,312.7 531.75,312.3 531.86,312.49 531.96,312.62 532.06,312.71 532.17,313.75 532.27,314.29 532.37,315.03 532.48,315.22 532.58,315.42 532.68,316.23 532.79,315.81 532.89,316.21 532.99,315.62 533.1,315.74 533.2,315.24 533.3,315.04 533.41,314.32 533.51,314.04 533.61,313.07 533.72,313.08 533.82,312.83 533.92,312.81 534.03,313.5 534.13,314.23 534.23,315.12 534.33,315.19 534.44,315.4 534.54,316.08 534.64,316.05 534.75,315.88 534.85,315.43 534.95,315.21 535.06,315.13 535.16,314.91 535.26,314.9 535.37,315.3 535.47,315.37 535.57,315.62 535.68,315.6 535.78,315.4 535.88,315.8 535.99,315.53 536.09,314.98 536.19,314.28 536.3,313.48 536.4,312.74 536.5,311.89 536.61,311.4 536.71,311.31 536.81,311.85 536.91,312.81 537.02,314.15 537.12,314.56 537.22,315.16 537.33,315.56 537.43,315.58 537.53,316.28 537.64,315.63 537.74,316.07 537.84,316.3 537.95,315.83 538.05,316.08 538.15,315.91 538.26,315.82 538.36,315.79 538.46,315.73 538.57,316.23 538.67,316.17 538.77,316.19 538.88,315.44 538.98,315.55 539.08,314.66 539.19,313.89 539.29,312.53 539.39,310.99 539.49,310.38 539.6,309.29 539.7,310.22 539.8,311.37 539.91,312.5 540.01,313.86 540.11,315.13 540.22,315.23 540.32,315.84 540.42,316.08 540.53,315.89 540.63,316.14 540.73,315.92 540.84,316.02 540.94,316.08 541.04,316.12 541.15,315.88 541.25,316.09 541.35,316.03 541.46,315.81 541.56,316.08 541.66,315.84 541.77,316.29 541.87,315.98 541.97,316.16 542.07,316.02 542.18,315.98 542.28,315.8 542.38,315.75 542.49,316.3 542.59,316.02 542.69,316.02 542.8,316.02 542.9,316.22 543,315.82 543.11,315.77 543.21,316.23 543.31,315.97 543.42,316.1 543.52,316.23 543.62,316.27 543.73,316.25 543.83,315.66 543.93,315.88 544.04,316.16 544.14,316.08 544.24,315.49 544.35,315.34 544.45,315.19 544.55,314.82 544.65,314.7 544.76,314.73 544.86,314.3 544.96,314.13 545.07,313.87 545.17,314.21 545.27,314.86 545.38,314.94 545.48,315.06 545.58,315.35 545.69,315.8 545.79,315.93 545.89,315.61 546,316.05 546.1,315.87 546.2,316 546.31,315.81 546.41,315.91 546.51,315.89 546.62,315.92 546.72,315.66 546.82,315.79 546.93,316.05 547.03,315.69 547.13,315.77 547.23,316.15 547.34,315.84 547.44,315.88 547.54,315.82 547.65,316.23 547.75,315.71 547.85,316.1 547.96,316.25 548.06,315.79 548.16,315.95 548.27,316.2 548.37,316.08 548.47,315.91 548.58,315.68 548.68,315.95 548.78,315.89 548.89,316.11 548.99,315.78 549.09,315.8 549.2,315.87 549.3,315.85 549.4,315.35 549.51,315.17 549.61,315.09 549.71,315.15 549.81,314.51 549.92,315 550.02,314.87 550.12,314.76 550.23,315.15 550.33,315.13 550.43,315.15 550.54,315.81 550.64,315.68 550.74,315.88 550.85,315.92 550.95,316.24 551.05,316.16 551.16,315.66 551.26,316.06 551.36,315.97 551.47,315.97 551.57,316.24 551.67,315.94 551.78,315.98 551.88,316.27 551.98,315.96 552.09,315.99 552.19,316.01 552.29,316.23 552.39,316.12 552.5,316.17 552.6,315.93 552.7,315.68 552.81,316.13 552.91,316.04 553.01,316.19 553.12,316.19 553.22,315.73 553.32,315.8 553.43,315.7 553.53,316.22 553.63,315.72 553.74,315.71 553.84,316.18 553.94,316.05 554.05,315.69 554.15,316.13 554.25,316.15 554.36,315.99 554.46,315.69 554.56,316.13 554.67,315.94 554.77,316.06 554.87,316.35 554.97,316.22 555.08,316.26 555.18,315.75 555.28,315.88 555.39,316.01 555.49,315.65 555.59,316.34 555.7,315.84 555.8,315.83 555.9,315.87 556.01,315.83 556.11,316.25 556.21,316.04 556.32,316.01 556.42,315.94 556.52,315.69 556.63,315.86 556.73,316.26 556.83,316.21 556.94,316.25 557.04,315.83 557.14,315.79 557.25,315.69 557.35,316.03 557.45,315.91 557.55,315.97 557.66,315.99 557.76,316.06 557.86,315.91 557.97,316.21 558.07,315.79 558.17,316.29 558.28,316.04 558.38,315.69 558.48,315.87 558.59,316.02 558.69,315.94 558.79,316.05 558.9,315.88 559,315.84 559.1,316.21 559.21,315.85 559.31,316.15 559.41,316.21 559.52,316.06 559.62,315.97 559.72,316.3 559.83,315.96 559.93,316.26 560.03,315.69 560.13,315.95 560.24,316.1 560.34,315.68 560.44,316.25 560.55,315.7 560.65,316.07 560.75,315.78 560.86,316.3 560.96,316.04 561.06,316.21 561.17,316 561.27,316.12 561.37,316.12 561.48,315.86 561.58,315.8 561.68,316.24 561.79,315.75 561.89,316.28 561.99,315.77 562.1,315.67 562.2,315.61 562.3,315.99 562.41,315.94 562.51,315.32 562.61,315.18 562.71,314.54 562.82,314.64 562.92,314.2 563.02,313.66 563.13,313.59 563.23,314.2 563.33,314.04 563.44,314.95 563.54,314.93 563.64,315.2 563.75,315.68 563.85,315.66 563.95,315.93 564.06,315.7 564.16,316.26 564.26,315.87 564.37,316.24 564.47,315.76 564.57,316.21 564.68,316.34 564.78,315.92 564.88,315.67 564.99,315.92 565.09,316.1 565.19,315.81 565.29,316.03 565.4,315.72 565.5,315.98 565.6,316.16 565.71,315.95 565.81,316.13 565.91,315.73 566.02,316.23 566.12,315.74 566.22,316.3 566.33,316.35 566.43,316.31 566.53,316.02 566.64,315.85 566.74,315.89 566.84,316.18 566.95,316 567.05,316.3 567.15,315.72 567.26,315.99 567.36,316.25 567.46,316.07 567.57,316.03 567.67,315.71 567.77,315.75 567.87,315.84 567.98,316.28 568.08,316.24 568.18,315.81 568.29,316.3 568.39,315.67 568.49,316.07 568.6,316.33 568.7,315.89 568.8,316.31 568.91,316.11 569.01,315.69 569.11,315.88 569.22,315.96 569.32,315.82 569.42,316.17 569.53,315.78 569.63,316.2 569.73,315.86 569.84,315.7 569.94,316.04 570.04,315.72 570.15,316.04 570.25,316.2" fill="none" stroke="#ff2020" stroke-width="1.05" stroke-linejoin="round" />
<polyline points="484.9,341.25 485.01,341.06 485.11,340.67 485.21,340.92 485.31,340.54 485.42,340.85 485.52,340.41 485.62,340.64 485.73,340.41 485.83,340.35 485.93,340.48 486.04,340.06 486.14,339.99 486.24,340.46 486.35,339.97 486.45,340.27 486.55,340.22 486.66,339.89 486.76,339.6 486.86,339.5 486.97,339.99 487.07,339.4 487.17,339.61 487.28,339.59 487.38,339.24 487.48,339.44 487.59,339.17 487.69,339.39 487.79,339.32 487.89,339.17 488,339.01 488.1,339.11 488.2,338.92 488.31,338.82 488.41,338.86 488.51,339.26 488.62,338.96 488.72,339.19 488.82,338.54 488.93,339.15 489.03,338.79 489.13,338.96 489.24,338.77 489.34,338.81 489.44,338.45 489.55,338.78 489.65,338.33 489.75,338.37 489.86,338.17 489.96,338.39 490.06,338.44 490.17,338.25 490.27,338.63 490.37,338.04 490.47,338.35 490.58,338.08 490.68,338.3 490.78,338.4 490.89,338.31 490.99,337.83 491.09,337.92 491.2,338.14 491.3,338.38 491.4,337.69 491.51,338.07 491.61,338.09 491.71,338.14 491.82,337.78 491.92,338.07 492.02,337.76 492.13,337.95 492.23,337.06 492.33,337.2 492.44,335.91 492.54,334.37 492.64,331.89 492.75,329.05 492.85,326.05 492.95,322.85 493.05,320.18 493.16,319.46 493.26,320.13 493.36,322.43 493.47,325.56 493.57,328.94 493.67,332.3 493.78,334.53 493.88,335.87 493.98,336.54 494.09,337.02 494.19,337.43 494.29,337.61 494.4,337.52 494.5,337.44 494.6,337.13 494.71,337.42 494.81,337.56 494.91,337.51 495.02,337.02 495.12,337.45 495.22,337.18 495.33,337.04 495.43,337.6 495.53,337.39 495.63,337.44 495.74,337.01 495.84,337.49 495.94,337.56 496.05,337.54 496.15,337.43 496.25,337.49 496.36,337.47 496.46,337.32 496.56,337.22 496.67,337.49 496.77,337.47 496.87,337.53 496.98,337.14 497.08,337.61 497.18,337.31 497.29,337.61 497.39,337.04 497.49,337.64 497.6,337.52 497.7,337.16 497.8,337.58 497.91,337.16 498.01,337.15 498.11,337.34 498.21,337.19 498.32,337.39 498.42,337.69 498.52,337.54 498.63,337.57 498.73,337.36 498.83,337.65 498.94,337.67 499.04,337.6 499.14,337.8 499.25,337.73 499.35,337.45 499.45,337.24 499.56,337.65 499.66,337.79 499.76,337.45 499.87,337.64 499.97,337.83 500.07,337.81 500.18,337.27 500.28,337.62 500.38,337.3 500.49,337.38 500.59,337.88 500.69,337.62 500.79,337.76 500.9,337.67 501,337.6 501.1,337.52 501.21,337.63 501.31,337.99 501.41,337.84 501.52,337.62 501.62,337.49 501.72,337.63 501.83,337.94 501.93,337.76 502.03,337.93 502.14,338.04 502.24,337.57 502.34,337.97 502.45,337.53 502.55,338.08 502.65,337.64 502.76,337.71 502.86,338.2 502.96,337.79 503.07,337.7 503.17,338.17 503.27,337.98 503.37,338.18 503.48,337.84 503.58,337.92 503.68,338.24 503.79,337.93 503.89,338.27 503.99,337.72 504.1,338.17 504.2,337.71 504.3,337.97 504.41,337.6 504.51,337.72 504.61,338.25 504.72,337.86 504.82,338.01 504.92,337.4 505.03,337.04 505.13,336.08 505.23,335.17 505.34,333.67 505.44,331.33 505.54,329.05 505.65,327.59 505.75,326.5 505.85,326.33 505.95,326.93 506.06,329.07 506.16,330.93 506.26,333.04 506.37,333.77 506.47,334.38 506.57,334.1 506.68,333.22 506.78,332.52 506.88,332.07 506.99,332.13 507.09,332.28 507.19,333.06 507.3,334.6 507.4,335.07 507.5,336.57 507.61,337.16 507.71,337.53 507.81,337.72 507.92,338.07 508.02,338.23 508.12,338.15 508.23,338.17 508.33,337.67 508.43,337.88 508.53,337.75 508.64,338.32 508.74,338.28 508.84,337.75 508.95,338.06 509.05,338.06 509.15,337.68 509.26,337.93 509.36,338.18 509.46,338.1 509.57,337.85 509.67,338.19 509.77,337.86 509.88,338.03 509.98,337.95 510.08,338.34 510.19,338.11 510.29,338.22 510.39,338.13 510.5,337.92 510.6,338.33 510.7,338.15 510.81,338.14 510.91,337.85 511.01,337.77 511.11,338.05 511.22,338.23 511.32,338.21 511.42,337.89 511.53,337.75 511.63,338.01 511.73,338.27 511.84,337.77 511.94,338.17 512.04,337.77 512.15,337.87 512.25,337.69 512.35,337.86 512.46,337.92 512.56,338.33 512.66,338.32 512.77,337.78 512.87,337.86 512.97,338.28 513.08,337.7 513.18,337.63 513.28,337.36 513.39,336.43 513.49,335.31 513.59,333.53 513.69,331.07 513.8,328.76 513.9,325.9 514,324.45 514.11,324.94 514.21,326.03 514.31,328.68 514.42,331.25 514.52,333.8 514.62,335.35 514.73,336.46 514.83,337.59 514.93,337.74 515.04,337.95 515.14,338.09 515.24,338.17 515.35,337.84 515.45,337.9 515.55,338.29 515.66,338.02 515.76,337.85 515.86,338.09 515.97,337.83 516.07,338.19 516.17,337.68 516.27,338.23 516.38,338.05 516.48,337.9 516.58,338.31 516.69,337.84 516.79,337.82 516.89,337.7 517,338.03 517.1,338.18 517.2,338.13 517.31,337.94 517.41,338.22 517.51,337.73 517.62,337.87 517.72,338.1 517.82,338.33 517.93,338.09 518.03,338.13 518.13,338.19 518.24,337.93 518.34,338.31 518.44,338.17 518.55,337.89 518.65,337.93 518.75,338.21 518.85,337.9 518.96,337.78 519.06,338.26 519.16,338.02 519.27,338.02 519.37,338.12 519.47,338.28 519.58,337.74 519.68,337.89 519.78,337.7 519.89,337.94 519.99,338 520.09,338.25 520.2,338.12 520.3,338.05 520.4,337.93 520.51,338.05 520.61,337.84 520.71,338.24 520.82,338.2 520.92,338.24 521.02,337.76 521.13,338.12 521.23,338.18 521.33,338 521.43,338.28 521.54,338.28 521.64,338.17 521.74,338.22 521.85,338.1 521.95,338.27 522.05,337.74 522.16,338.14 522.26,338.14 522.36,338.08 522.47,337.84 522.57,337.7 522.67,338.07 522.78,338.23 522.88,337.84 522.98,337.8 523.09,337.81 523.19,337.72 523.29,338.12 523.4,338.33 523.5,338.21 523.6,337.9 523.71,338.14 523.81,337.7 523.91,338.24 524.01,337.88 524.12,337.65 524.22,338.09 524.32,337.75 524.43,337.84 524.53,337.69 524.63,337.96 524.74,338.04 524.84,338.22 524.94,337.68 525.05,338.23 525.15,337.73 525.25,337.81 525.36,338.09 525.46,337.89 525.56,337.88 525.67,338.05 525.77,337.8 525.87,338.21 525.98,337.8 526.08,338.24 526.18,338.22 526.29,338.03 526.39,337.67 526.49,338.19 526.59,337.67 526.7,338 526.8,337.95 526.9,337.69 527.01,338.09 527.11,338.16 527.21,338.06 527.32,337.93 527.42,338.01 527.52,338.06 527.63,337.81 527.73,338.26 527.83,338.35 527.94,338.21 528.04,338.32 528.14,337.88 528.25,338.34 528.35,337.7 528.45,337.98 528.56,337.74 528.66,337.97 528.76,338.13 528.87,338.15 528.97,337.97 529.07,337.89 529.17,337.78 529.28,337.93 529.38,337.85 529.48,337.79 529.59,338.17 529.69,338.01 529.79,337.96 529.9,337.79 530,338.14 530.1,337.79 530.21,337.84 530.31,338.04 530.41,338.14 530.52,338.33 530.62,338.17 530.72,338.31 530.83,338.28 530.93,338.11 531.03,338.02 531.14,337.4 531.24,337.18 531.34,336.53 531.45,336.4 531.55,335.42 531.65,334.48 531.75,333.57 531.86,333.39 531.96,333.5 532.06,334.48 532.17,335.61 532.27,336.01 532.37,336.56 532.48,337.16 532.58,337.6 532.68,338.14 532.79,338.14 532.89,337.9 532.99,337.58 533.1,337.43 533.2,337.17 533.3,337.14 533.41,336.29 533.51,335.92 533.61,335.18 533.72,334.63 533.82,334.31 533.92,334.84 534.03,334.95 534.13,335.67 534.23,336.68 534.33,337.19 534.44,337.33 534.54,337.53 534.64,337.39 534.75,337.92 534.85,337.62 534.95,337.58 535.06,337.43 535.16,336.94 535.26,337.15 535.37,337.01 535.47,337.49 535.57,337.71 535.68,337.37 535.78,337.36 535.88,337.45 535.99,337.48 536.09,336.88 536.19,335.92 536.3,335.61 536.4,334.64 536.5,333.65 536.61,332.98 536.71,333.7 536.81,334.05 536.91,334.6 537.02,335.72 537.12,336.74 537.22,337.52 537.33,337.61 537.43,337.93 537.53,337.73 537.64,337.8 537.74,338.28 537.84,337.92 537.95,337.72 538.05,338.06 538.15,337.74 538.26,337.79 538.36,337.97 538.46,338.06 538.57,338.09 538.67,338.11 538.77,337.86 538.88,337.43 538.98,337.53 539.08,336.39 539.19,335.63 539.29,334.2 539.39,332.93 539.49,331.82 539.6,331.05 539.7,331.77 539.8,332.94 539.91,334.25 540.01,335.4 540.11,336.99 540.22,337.44 540.32,337.43 540.42,337.72 540.53,338.31 540.63,337.8 540.73,337.92 540.84,338.2 540.94,338.23 541.04,338.09 541.15,338.17 541.25,337.68 541.35,337.72 541.46,338.33 541.56,338.21 541.66,337.68 541.77,337.68 541.87,337.82 541.97,338.3 542.07,337.8 542.18,338.12 542.28,338.3 542.38,338.1 542.49,338.29 542.59,337.83 542.69,337.76 542.8,337.66 542.9,338.18 543,337.72 543.11,338.33 543.21,338.15 543.31,337.78 543.42,338.21 543.52,337.76 543.62,338.01 543.73,337.72 543.83,338.18 543.93,338.23 544.04,338.21 544.14,337.49 544.24,337.97 544.35,337.58 544.45,337.53 544.55,337 544.65,336.76 544.76,336.42 544.86,336.32 544.96,335.67 545.07,335.66 545.17,336.14 545.27,336.21 545.38,336.6 545.48,336.66 545.58,337.47 545.69,337.21 545.79,337.95 545.89,338.06 546,337.89 546.1,337.69 546.2,338.09 546.31,337.79 546.41,337.95 546.51,337.73 546.62,338.33 546.72,338.03 546.82,337.9 546.93,337.72 547.03,338.16 547.13,338.24 547.23,338.24 547.34,337.72 547.44,337.91 547.54,337.86 547.65,338.18 547.75,337.75 547.85,338.07 547.96,338.33 548.06,338.19 548.16,337.65 548.27,337.7 548.37,337.73 548.47,338.13 548.58,338.07 548.68,338.01 548.78,337.95 548.89,337.9 548.99,338.01 549.09,337.98 549.2,338.08 549.3,337.82 549.4,337.7 549.51,337.59 549.61,337.34 549.71,337.08 549.81,336.48 549.92,336.9 550.02,337.06 550.12,336.88 550.23,337.37 550.33,337.08 550.43,337.8 550.54,337.62 550.64,337.93 550.74,337.7 550.85,337.79 550.95,337.86 551.05,337.86 551.16,337.71 551.26,337.96 551.36,338.34 551.47,338.11 551.57,338.3 551.67,338.18 551.78,338.24 551.88,338.35 551.98,338.18 552.09,337.84 552.19,337.82 552.29,337.94 552.39,337.66 552.5,337.81 552.6,338.27 552.7,338.29 552.81,337.88 552.91,338.19 553.01,338.19 553.12,338.27 553.22,338.21 553.32,338.02 553.43,337.72 553.53,338.23 553.63,337.87 553.74,338.09 553.84,337.91 553.94,338.03 554.05,338.33 554.15,337.76 554.25,338.02 554.36,338.1 554.46,338.03 554.56,338.31 554.67,337.94 554.77,338.29 554.87,338.13 554.97,338.33 555.08,337.71 555.18,337.8 555.28,337.85 555.39,338.28 555.49,337.66 555.59,337.83 555.7,338.15 555.8,338.34 555.9,337.77 556.01,337.96 556.11,338.13 556.21,338.13 556.32,338.17 556.42,338.18 556.52,337.82 556.63,337.83 556.73,337.67 556.83,338.13 556.94,337.8 557.04,337.83 557.14,338.33 557.25,338.1 557.35,338.06 557.45,338.11 557.55,338.07 557.66,338.14 557.76,337.86 557.86,337.69 557.97,337.7 558.07,337.66 558.17,337.9 558.28,337.75 558.38,337.73 558.48,338 558.59,338.33 558.69,338.13 558.79,337.84 558.9,338.19 559,337.77 559.1,337.72 559.21,337.86 559.31,337.94 559.41,338.13 559.52,337.96 559.62,338.16 559.72,337.72 559.83,338.3 559.93,337.89 560.03,338.23 560.13,337.67 560.24,338.23 560.34,337.81 560.44,338.25 560.55,338.21 560.65,338.12 560.75,337.84 560.86,337.66 560.96,337.78 561.06,338.28 561.17,337.76 561.27,338.11 561.37,338.06 561.48,338.11 561.58,337.78 561.68,337.75 561.79,337.71 561.89,338.33 561.99,337.9 562.1,338.06 562.2,337.94 562.3,337.6 562.41,337.33 562.51,337.06 562.61,337.35 562.71,336.5 562.82,336.74 562.92,336.03 563.02,336.13 563.13,335.72 563.23,336.33 563.33,336.24 563.44,336.66 563.54,337.12 563.64,337.13 563.75,337.46 563.85,338 563.95,337.74 564.06,337.87 564.16,338.16 564.26,337.8 564.37,337.78 564.47,337.8 564.57,337.92 564.68,337.91 564.78,338.1 564.88,337.98 564.99,338.26 565.09,337.69 565.19,338.11 565.29,338.24 565.4,337.81 565.5,337.67 565.6,337.96 565.71,337.73 565.81,337.97 565.91,338.15 566.02,337.72 566.12,337.73 566.22,337.99 566.33,337.77 566.43,337.81 566.53,337.96 566.64,337.73 566.74,337.7 566.84,337.9 566.95,337.98 567.05,338.31 567.15,338.04 567.26,337.7 567.36,337.81 567.46,338.17 567.57,338.04 567.67,338.26 567.77,338.32 567.87,338.25 567.98,337.73 568.08,338.31 568.18,338.02 568.29,337.82 568.39,337.77 568.49,338.26 568.6,337.8 568.7,337.71 568.8,337.84 568.91,338.3 569.01,337.97 569.11,338.16 569.22,337.7 569.32,337.97 569.42,337.87 569.53,337.79 569.63,338.11 569.73,337.9 569.84,337.73 569.94,338.34 570.04,337.99 570.15,337.78 570.25,337.66" fill="none" stroke="#111111" stroke-width="1.05" stroke-linejoin="round" />
<line x1="570.3" y1="207.6" x2="570.3" y2="350" stroke="#222" stroke-width="1" stroke-dasharray="3,3" />
<polyline points="576.7,344.8 577.25,344.33 577.79,343.86 578.34,343.38 578.88,342.91 579.43,342.44 579.98,341.97 580.52,341.5 581.07,341.03 581.54,340.48 582.01,339.93 582.48,339.38 582.94,338.83 583.41,338.28 583.88,337.73 584.35,337.18 584.8,336.62 585.26,336.06 585.71,335.5 586.16,334.94 586.62,334.38 587.07,333.82 587.52,333.25 587.97,332.69 588.42,332.12 588.87,331.56 589.31,330.99 589.76,330.43 590.21,329.86 590.66,329.3 591.05,328.69 591.36,328.04 591.67,327.39 591.98,326.74 592.3,326.09 592.61,325.44 592.92,324.79 593.23,324.14 593.48,323.46 593.71,322.78 593.95,322.1 594.18,321.41 594.41,320.73 594.64,320.04 594.87,319.36 595.1,318.68 595.33,317.99 595.56,317.31 595.78,316.62 596,315.93 596.22,315.25 596.44,314.56 596.66,313.87 596.89,313.19 597.11,312.5 597.33,311.81 597.55,311.13 597.77,310.44 597.99,309.75 598.21,309.07 598.45,308.38 598.69,307.7 598.94,307.03 599.18,306.35 599.42,305.67 599.67,304.99 599.91,304.31 600.16,303.63 600.4,302.95 600.64,302.27 600.89,301.59 601.13,300.91 601.38,300.23 601.63,299.56 601.88,298.88 602.13,298.2 602.37,297.52 602.62,296.85 602.87,296.17 603.12,295.49 603.37,294.82 603.62,294.14 603.88,293.46 604.13,292.79 604.39,292.11 604.64,291.44 604.9,290.76 605.15,290.09 605.42,289.42 605.71,288.76 606,288.1 606.29,287.44 606.58,286.78 606.87,286.12 607.16,285.45 607.45,284.79 607.74,284.13 608.05,283.48 608.37,282.83 608.69,282.19 609.01,281.54 609.32,280.89 609.64,280.24 609.96,279.59 610.28,278.95 610.62,278.31 610.95,277.67 611.28,277.03 611.61,276.39 611.95,275.75 612.28,275.11 612.61,274.47 612.96,273.83 613.31,273.2 613.66,272.57 614.01,271.94 614.37,271.31 614.72,270.68 615.07,270.05 615.4,269.41 615.73,268.77 616.06,268.13 616.39,267.48 616.72,266.84 617.04,266.2 617.37,265.56 617.69,264.91 618.02,264.27 618.34,263.62 618.66,262.98 618.99,262.33 619.31,261.69 619.71,261.08 620.11,260.48 620.51,259.88 620.91,259.28 621.31,258.68 621.71,258.08 622.11,257.48 622.51,256.88 622.91,256.28 623.31,255.68 623.72,255.08 624.12,254.49 624.53,253.89 624.94,253.3 625.35,252.7 625.75,252.1 626.17,251.51 626.6,250.93 627.03,250.35 627.46,249.77 627.89,249.19 628.32,248.62 628.75,248.04 629.18,247.46 629.6,246.87 630.03,246.29 630.46,245.71 630.89,245.13 631.32,244.55 631.75,243.97 632.2,243.41 632.65,242.85 633.11,242.29 633.56,241.73 634.02,241.17 634.48,240.61 634.94,240.06 635.4,239.5 635.87,238.95 636.33,238.4 636.79,237.85 637.28,237.32 637.79,236.81 638.3,236.3 638.81,235.79 639.33,235.27 639.84,234.77 640.36,234.27 640.88,233.77 641.4,233.27 641.92,232.77 642.43,232.26 642.94,231.74 643.44,231.22 643.94,230.7 644.44,230.18 644.94,229.67 645.45,229.16 645.97,228.66 646.49,228.16 647.01,227.66 647.53,227.16 648.05,226.65 648.56,226.14 649.07,225.63 649.58,225.12 650.09,224.61 650.6,224.1" fill="none" stroke="#f0a030" stroke-width="1.3" stroke-linejoin="round" />
<polyline points="576.2,344.3 576.75,343.83 577.29,343.36 577.84,342.88 578.38,342.41 578.93,341.94 579.48,341.47 580.02,341 580.57,340.53 581.04,339.98 581.51,339.43 581.98,338.88 582.44,338.33 582.91,337.78 583.38,337.23 583.85,336.68 584.3,336.12 584.76,335.56 585.21,335 585.66,334.44 586.12,333.88 586.57,333.32 587.02,332.75 587.47,332.19 587.92,331.62 588.37,331.06 588.81,330.49 589.26,329.93 589.71,329.36 590.16,328.8 590.55,328.19 590.86,327.54 591.17,326.89 591.48,326.24 591.8,325.59 592.11,324.94 592.42,324.29 592.73,323.64 592.98,322.96 593.21,322.28 593.45,321.6 593.68,320.91 593.91,320.23 594.14,319.54 594.37,318.86 594.6,318.18 594.83,317.49 595.06,316.81 595.28,316.12 595.5,315.43 595.72,314.75 595.94,314.06 596.16,313.37 596.39,312.69 596.61,312 596.83,311.31 597.05,310.63 597.27,309.94 597.49,309.25 597.71,308.57 597.95,307.88 598.19,307.2 598.44,306.53 598.68,305.85 598.92,305.17 599.17,304.49 599.41,303.81 599.66,303.13 599.9,302.45 600.14,301.77 600.39,301.09 600.63,300.41 600.88,299.73 601.13,299.06 601.38,298.38 601.63,297.7 601.87,297.02 602.12,296.35 602.37,295.67 602.62,294.99 602.87,294.32 603.12,293.64 603.38,292.96 603.63,292.29 603.89,291.61 604.14,290.94 604.4,290.26 604.65,289.59 604.92,288.92 605.21,288.26 605.5,287.6 605.79,286.94 606.08,286.28 606.37,285.62 606.66,284.95 606.95,284.29 607.24,283.63 607.55,282.98 607.87,282.33 608.19,281.69 608.51,281.04 608.82,280.39 609.14,279.74 609.46,279.09 609.78,278.45 610.12,277.81 610.45,277.17 610.78,276.53 611.11,275.89 611.45,275.25 611.78,274.61 612.11,273.97 612.46,273.33 612.81,272.7 613.16,272.07 613.51,271.44 613.87,270.81 614.22,270.18 614.57,269.55 614.9,268.91 615.23,268.27 615.56,267.63 615.89,266.98 616.22,266.34 616.54,265.7 616.87,265.06 617.19,264.41 617.52,263.77 617.84,263.12 618.16,262.48 618.49,261.83 618.81,261.19 619.21,260.58 619.61,259.98 620.01,259.38 620.41,258.78 620.81,258.18 621.21,257.58 621.61,256.98 622.01,256.38 622.41,255.78 622.81,255.18 623.22,254.58 623.62,253.99 624.03,253.39 624.44,252.8 624.85,252.2 625.25,251.6 625.67,251.01 626.1,250.43 626.53,249.85 626.96,249.27 627.39,248.69 627.82,248.12 628.25,247.54 628.68,246.96 629.1,246.37 629.53,245.79 629.96,245.21 630.39,244.63 630.82,244.05 631.25,243.47 631.7,242.91 632.15,242.35 632.61,241.79 633.06,241.23 633.52,240.67 633.98,240.11 634.44,239.56 634.9,239 635.37,238.45 635.83,237.9 636.29,237.35 636.78,236.82 637.29,236.31 637.8,235.8 638.31,235.29 638.83,234.77 639.34,234.27 639.86,233.77 640.38,233.27 640.9,232.77 641.42,232.27 641.93,231.76 642.44,231.24 642.94,230.72 643.44,230.2 643.94,229.68 644.44,229.17 644.95,228.66 645.47,228.16 645.99,227.66 646.51,227.16 647.03,226.66 647.55,226.15 648.06,225.64 648.57,225.13 649.08,224.62 649.59,224.11 650.1,223.6" fill="none" stroke="#5a24b8" stroke-width="1.3" stroke-linejoin="round" />
<circle cx="576.6" cy="344.7" r="1.5" fill="#f2a640"/>
<circle cx="579.86" cy="341.88" r="1.5" fill="#f2a640"/>
<circle cx="582.82" cy="338.76" r="1.5" fill="#f2a640"/>
<circle cx="585.57" cy="335.45" r="1.5" fill="#f2a640"/>
<circle cx="588.26" cy="332.09" r="1.5" fill="#f2a640"/>
<circle cx="590.9" cy="328.69" r="1.5" fill="#f2a640"/>
<circle cx="592.76" cy="324.81" r="1.5" fill="#f2a640"/>
<circle cx="594.26" cy="320.77" r="1.5" fill="#f2a640"/>
<circle cx="595.62" cy="316.69" r="1.5" fill="#f2a640"/>
<circle cx="596.95" cy="312.59" r="1.5" fill="#f2a640"/>
<circle cx="598.28" cy="308.49" r="1.5" fill="#f2a640"/>
<circle cx="599.73" cy="304.43" r="1.5" fill="#f2a640"/>
<circle cx="601.19" cy="300.38" r="1.5" fill="#f2a640"/>
<circle cx="602.67" cy="296.33" r="1.5" fill="#f2a640"/>
<circle cx="604.18" cy="292.3" r="1.5" fill="#f2a640"/>
<circle cx="605.77" cy="288.3" r="1.5" fill="#f2a640"/>
<circle cx="606.93" cy="285.67" r="1.5" fill="#f2a640"/>
<circle cx="608.01" cy="283.27" r="1.5" fill="#f2a640"/>
<circle cx="609.16" cy="280.92" r="1.5" fill="#f2a640"/>
<circle cx="610.33" cy="278.57" r="1.5" fill="#f2a640"/>
<circle cx="611.54" cy="276.24" r="1.5" fill="#f2a640"/>
<circle cx="612.76" cy="273.91" r="1.5" fill="#f2a640"/>
<circle cx="614.04" cy="271.62" r="1.5" fill="#f2a640"/>
<circle cx="615.3" cy="269.32" r="1.5" fill="#f2a640"/>
<circle cx="616.49" cy="266.98" r="1.5" fill="#f2a640"/>
<circle cx="617.68" cy="264.64" r="1.5" fill="#f2a640"/>
<circle cx="618.85" cy="262.29" r="1.5" fill="#f2a640"/>
<circle cx="620.22" cy="260.06" r="1.5" fill="#f2a640"/>
<circle cx="621.68" cy="257.88" r="1.5" fill="#f2a640"/>
<circle cx="623.14" cy="255.7" r="1.5" fill="#f2a640"/>
<circle cx="624.61" cy="253.53" r="1.5" fill="#f2a640"/>
<circle cx="626.1" cy="251.36" r="1.5" fill="#f2a640"/>
<circle cx="627.67" cy="249.26" r="1.5" fill="#f2a640"/>
<circle cx="629.23" cy="247.15" r="1.5" fill="#f2a640"/>
<circle cx="630.79" cy="245.04" r="1.5" fill="#f2a640"/>
<circle cx="632.39" cy="242.96" r="1.5" fill="#f2a640"/>
<circle cx="634.04" cy="240.92" r="1.5" fill="#f2a640"/>
<circle cx="635.72" cy="238.9" r="1.5" fill="#f2a640"/>
<circle cx="637.46" cy="236.94" r="1.5" fill="#f2a640"/>
<circle cx="639.32" cy="235.08" r="1.5" fill="#f2a640"/>
<circle cx="641.2" cy="233.26" r="1.5" fill="#f2a640"/>
<circle cx="643.06" cy="231.41" r="1.5" fill="#f2a640"/>
<circle cx="644.88" cy="229.52" r="1.5" fill="#f2a640"/>
<circle cx="646.77" cy="227.69" r="1.5" fill="#f2a640"/>
<circle cx="648.64" cy="225.86" r="1.5" fill="#f2a640"/>
<circle cx="650.5" cy="224" r="1.5" fill="#f2a640"/>
<circle cx="576.2" cy="344.3" r="1.5" fill="#7a1fa0"/>
<circle cx="579.46" cy="341.48" r="1.5" fill="#7a1fa0"/>
<circle cx="582.42" cy="338.36" r="1.5" fill="#7a1fa0"/>
<circle cx="585.17" cy="335.05" r="1.5" fill="#7a1fa0"/>
<circle cx="587.86" cy="331.69" r="1.5" fill="#7a1fa0"/>
<circle cx="590.5" cy="328.29" r="1.5" fill="#7a1fa0"/>
<circle cx="592.36" cy="324.41" r="1.5" fill="#7a1fa0"/>
<circle cx="593.86" cy="320.37" r="1.5" fill="#7a1fa0"/>
<circle cx="595.22" cy="316.29" r="1.5" fill="#7a1fa0"/>
<circle cx="596.55" cy="312.19" r="1.5" fill="#7a1fa0"/>
<circle cx="597.88" cy="308.09" r="1.5" fill="#7a1fa0"/>
<circle cx="599.33" cy="304.03" r="1.5" fill="#7a1fa0"/>
<circle cx="600.79" cy="299.98" r="1.5" fill="#7a1fa0"/>
<circle cx="602.27" cy="295.93" r="1.5" fill="#7a1fa0"/>
<circle cx="603.78" cy="291.9" r="1.5" fill="#7a1fa0"/>
<circle cx="605.37" cy="287.9" r="1.5" fill="#7a1fa0"/>
<circle cx="606.53" cy="285.27" r="1.5" fill="#7a1fa0"/>
<circle cx="607.61" cy="282.87" r="1.5" fill="#7a1fa0"/>
<circle cx="608.76" cy="280.52" r="1.5" fill="#7a1fa0"/>
<circle cx="609.93" cy="278.17" r="1.5" fill="#7a1fa0"/>
<circle cx="611.14" cy="275.84" r="1.5" fill="#7a1fa0"/>
<circle cx="612.36" cy="273.51" r="1.5" fill="#7a1fa0"/>
<circle cx="613.64" cy="271.22" r="1.5" fill="#7a1fa0"/>
<circle cx="614.9" cy="268.92" r="1.5" fill="#7a1fa0"/>
<circle cx="616.09" cy="266.58" r="1.5" fill="#7a1fa0"/>
<circle cx="617.28" cy="264.24" r="1.5" fill="#7a1fa0"/>
<circle cx="618.45" cy="261.89" r="1.5" fill="#7a1fa0"/>
<circle cx="619.82" cy="259.66" r="1.5" fill="#7a1fa0"/>
<circle cx="621.28" cy="257.48" r="1.5" fill="#7a1fa0"/>
<circle cx="622.74" cy="255.3" r="1.5" fill="#7a1fa0"/>
<circle cx="624.21" cy="253.13" r="1.5" fill="#7a1fa0"/>
<circle cx="625.7" cy="250.96" r="1.5" fill="#7a1fa0"/>
<circle cx="627.27" cy="248.86" r="1.5" fill="#7a1fa0"/>
<circle cx="628.83" cy="246.75" r="1.5" fill="#7a1fa0"/>
<circle cx="630.39" cy="244.64" r="1.5" fill="#7a1fa0"/>
<circle cx="631.99" cy="242.56" r="1.5" fill="#7a1fa0"/>
<circle cx="633.64" cy="240.52" r="1.5" fill="#7a1fa0"/>
<circle cx="635.32" cy="238.5" r="1.5" fill="#7a1fa0"/>
<circle cx="637.06" cy="236.54" r="1.5" fill="#7a1fa0"/>
<circle cx="638.92" cy="234.68" r="1.5" fill="#7a1fa0"/>
<circle cx="640.8" cy="232.86" r="1.5" fill="#7a1fa0"/>
<circle cx="642.66" cy="231.01" r="1.5" fill="#7a1fa0"/>
<circle cx="644.48" cy="229.12" r="1.5" fill="#7a1fa0"/>
<circle cx="646.37" cy="227.29" r="1.5" fill="#7a1fa0"/>
<circle cx="648.24" cy="225.46" r="1.5" fill="#7a1fa0"/>
<circle cx="650.1" cy="223.6" r="1.5" fill="#7a1fa0"/>
<rect x="485.3" y="205.4" width="171.1" height="144.6" fill="none" stroke="#262626" stroke-width="1"/>
<line x1="492.9" y1="350" x2="492.9" y2="352.5" stroke="#262626" stroke-width="1" />
<text x="492.9" y="361" font-size="9.0" text-anchor="middle" fill="#111" stroke="#111" stroke-width="0.16" >8</text>
<line x1="513.54" y1="350" x2="513.54" y2="352.5" stroke="#262626" stroke-width="1" />
<text x="513.54" y="361" font-size="9.0" text-anchor="middle" fill="#111" stroke="#111" stroke-width="0.16" >16</text>
<line x1="534.18" y1="350" x2="534.18" y2="352.5" stroke="#262626" stroke-width="1" />
<text x="534.18" y="361" font-size="9.0" text-anchor="middle" fill="#111" stroke="#111" stroke-width="0.16" >24</text>
<line x1="554.82" y1="350" x2="554.82" y2="352.5" stroke="#262626" stroke-width="1" />
<text x="554.82" y="361" font-size="9.0" text-anchor="middle" fill="#111" stroke="#111" stroke-width="0.16" >32</text>
<line x1="576.5" y1="350" x2="576.5" y2="352.6" stroke="#262626" stroke-width="1" />
<text x="576.5" y="361" font-size="8.6" text-anchor="middle" fill="#111" stroke="#111" stroke-width="0.16" >1E-4</text>
<line x1="595.18" y1="350" x2="595.18" y2="352.6" stroke="#262626" stroke-width="1" />
<text x="595.18" y="361" font-size="8.6" text-anchor="middle" fill="#111" stroke="#111" stroke-width="0.16" >1E-3</text>
<line x1="613.86" y1="350" x2="613.86" y2="352.6" stroke="#262626" stroke-width="1" />
<text x="613.86" y="361" font-size="8.6" text-anchor="middle" fill="#111" stroke="#111" stroke-width="0.16" >0.01</text>
<line x1="632.54" y1="350" x2="632.54" y2="352.6" stroke="#262626" stroke-width="1" />
<text x="632.54" y="361" font-size="8.6" text-anchor="middle" fill="#111" stroke="#111" stroke-width="0.16" >0.1</text>
<line x1="651.22" y1="350" x2="651.22" y2="352.6" stroke="#262626" stroke-width="1" />
<text x="651.22" y="361" font-size="8.6" text-anchor="middle" fill="#111" stroke="#111" stroke-width="0.16" >1</text>
<line x1="570.88" y1="350" x2="570.88" y2="351.8" stroke="#262626" stroke-width="0.9" />
<line x1="572.36" y1="350" x2="572.36" y2="351.8" stroke="#262626" stroke-width="0.9" />
<line x1="573.61" y1="350" x2="573.61" y2="351.8" stroke="#262626" stroke-width="0.9" />
<line x1="574.69" y1="350" x2="574.69" y2="351.8" stroke="#262626" stroke-width="0.9" />
<line x1="575.65" y1="350" x2="575.65" y2="351.8" stroke="#262626" stroke-width="0.9" />
<line x1="582.12" y1="350" x2="582.12" y2="351.8" stroke="#262626" stroke-width="0.9" />
<line x1="585.41" y1="350" x2="585.41" y2="351.8" stroke="#262626" stroke-width="0.9" />
<line x1="587.75" y1="350" x2="587.75" y2="351.8" stroke="#262626" stroke-width="0.9" />
<line x1="589.56" y1="350" x2="589.56" y2="351.8" stroke="#262626" stroke-width="0.9" />
<line x1="591.04" y1="350" x2="591.04" y2="351.8" stroke="#262626" stroke-width="0.9" />
<line x1="592.29" y1="350" x2="592.29" y2="351.8" stroke="#262626" stroke-width="0.9" />
<line x1="593.37" y1="350" x2="593.37" y2="351.8" stroke="#262626" stroke-width="0.9" />
<line x1="594.33" y1="350" x2="594.33" y2="351.8" stroke="#262626" stroke-width="0.9" />
<line x1="600.8" y1="350" x2="600.8" y2="351.8" stroke="#262626" stroke-width="0.9" />
<line x1="604.09" y1="350" x2="604.09" y2="351.8" stroke="#262626" stroke-width="0.9" />
<line x1="606.43" y1="350" x2="606.43" y2="351.8" stroke="#262626" stroke-width="0.9" />
<line x1="608.24" y1="350" x2="608.24" y2="351.8" stroke="#262626" stroke-width="0.9" />
<line x1="609.72" y1="350" x2="609.72" y2="351.8" stroke="#262626" stroke-width="0.9" />
<line x1="610.97" y1="350" x2="610.97" y2="351.8" stroke="#262626" stroke-width="0.9" />
<line x1="612.05" y1="350" x2="612.05" y2="351.8" stroke="#262626" stroke-width="0.9" />
<line x1="613.01" y1="350" x2="613.01" y2="351.8" stroke="#262626" stroke-width="0.9" />
<line x1="619.48" y1="350" x2="619.48" y2="351.8" stroke="#262626" stroke-width="0.9" />
<line x1="622.77" y1="350" x2="622.77" y2="351.8" stroke="#262626" stroke-width="0.9" />
<line x1="625.11" y1="350" x2="625.11" y2="351.8" stroke="#262626" stroke-width="0.9" />
<line x1="626.92" y1="350" x2="626.92" y2="351.8" stroke="#262626" stroke-width="0.9" />
<line x1="628.4" y1="350" x2="628.4" y2="351.8" stroke="#262626" stroke-width="0.9" />
<line x1="629.65" y1="350" x2="629.65" y2="351.8" stroke="#262626" stroke-width="0.9" />
<line x1="630.73" y1="350" x2="630.73" y2="351.8" stroke="#262626" stroke-width="0.9" />
<line x1="631.69" y1="350" x2="631.69" y2="351.8" stroke="#262626" stroke-width="0.9" />
<line x1="638.16" y1="350" x2="638.16" y2="351.8" stroke="#262626" stroke-width="0.9" />
<line x1="641.45" y1="350" x2="641.45" y2="351.8" stroke="#262626" stroke-width="0.9" />
<line x1="643.79" y1="350" x2="643.79" y2="351.8" stroke="#262626" stroke-width="0.9" />
<line x1="645.6" y1="350" x2="645.6" y2="351.8" stroke="#262626" stroke-width="0.9" />
<line x1="647.08" y1="350" x2="647.08" y2="351.8" stroke="#262626" stroke-width="0.9" />
<line x1="648.33" y1="350" x2="648.33" y2="351.8" stroke="#262626" stroke-width="0.9" />
<line x1="649.41" y1="350" x2="649.41" y2="351.8" stroke="#262626" stroke-width="0.9" />
<line x1="650.37" y1="350" x2="650.37" y2="351.8" stroke="#262626" stroke-width="0.9" />
<line x1="653.4" y1="349.5" x2="656.4" y2="349.5" stroke="#262626" stroke-width="1" />
<text x="659" y="352.7" font-size="9.0" text-anchor="start" fill="#111" stroke="#111" stroke-width="0.16" >0.0</text>
<line x1="653.4" y1="317.25" x2="656.4" y2="317.25" stroke="#262626" stroke-width="1" />
<text x="659" y="320.45" font-size="9.0" text-anchor="start" fill="#111" stroke="#111" stroke-width="0.16" >0.5</text>
<line x1="653.4" y1="285" x2="656.4" y2="285" stroke="#262626" stroke-width="1" />
<text x="659" y="288.2" font-size="9.0" text-anchor="start" fill="#111" stroke="#111" stroke-width="0.16" >1.0</text>
<line x1="653.4" y1="252.75" x2="656.4" y2="252.75" stroke="#262626" stroke-width="1" />
<text x="659" y="255.95" font-size="9.0" text-anchor="start" fill="#111" stroke="#111" stroke-width="0.16" >1.5</text>
<line x1="653.4" y1="220.5" x2="656.4" y2="220.5" stroke="#262626" stroke-width="1" />
<text x="659" y="223.7" font-size="9.0" text-anchor="start" fill="#111" stroke="#111" stroke-width="0.16" >2.0</text>
<text x="453" y="204.9" font-size="16.2" text-anchor="start" fill="#111" stroke="#111" stroke-width="0.16" >(e)</text>
<text x="528.9" y="376.7" font-size="10.9" text-anchor="middle" fill="#111" stroke="#111" stroke-width="0.16" >2 Theta (°)</text>
<text x="612.5" y="376.5" font-size="11.0" text-anchor="middle" fill="#111" stroke="#111" stroke-width="0.16" >Pressure (bar)</text>
<text x="474.3" y="276.3" font-size="11.0" text-anchor="middle" fill="#111" stroke="#111" stroke-width="0.16" transform="rotate(-90 474.3 276.3)" >Intensity (arb. units)</text>
<text x="674.8" y="277.4" font-size="11.3" text-anchor="middle" fill="#111" stroke="#111" stroke-width="0.16" transform="rotate(90 674.8 277.4)" ><tspan>C</tspan><tspan font-size="7.01" dy="2.6">3</tspan><tspan dy="-2.6">H</tspan><tspan font-size="7.01" dy="2.6">8</tspan><tspan dy="-2.6"> Uptake (mmol/g)</tspan></text>
<text x="511" y="215.8" font-size="8.25" text-anchor="start" fill="#222" word-spacing="0.6">Exposed in humid air for 2 months</text>
<text x="523.5" y="241.8" font-size="8.25" text-anchor="start" fill="#222" word-spacing="0.6">Exposed in air for 6 months</text>
<text x="524" y="269.3" font-size="8.25" text-anchor="start" fill="#222" word-spacing="0.6">Degas in 100°C for 10 days</text>
<text x="541.6" y="298.8" font-size="8.25" text-anchor="start" fill="#222" word-spacing="0.6">After cycle test</text>
<text x="541.6" y="326.6" font-size="8.25" text-anchor="start" fill="#222" word-spacing="0.6">As-synthesized</text>
</svg></body></html>
